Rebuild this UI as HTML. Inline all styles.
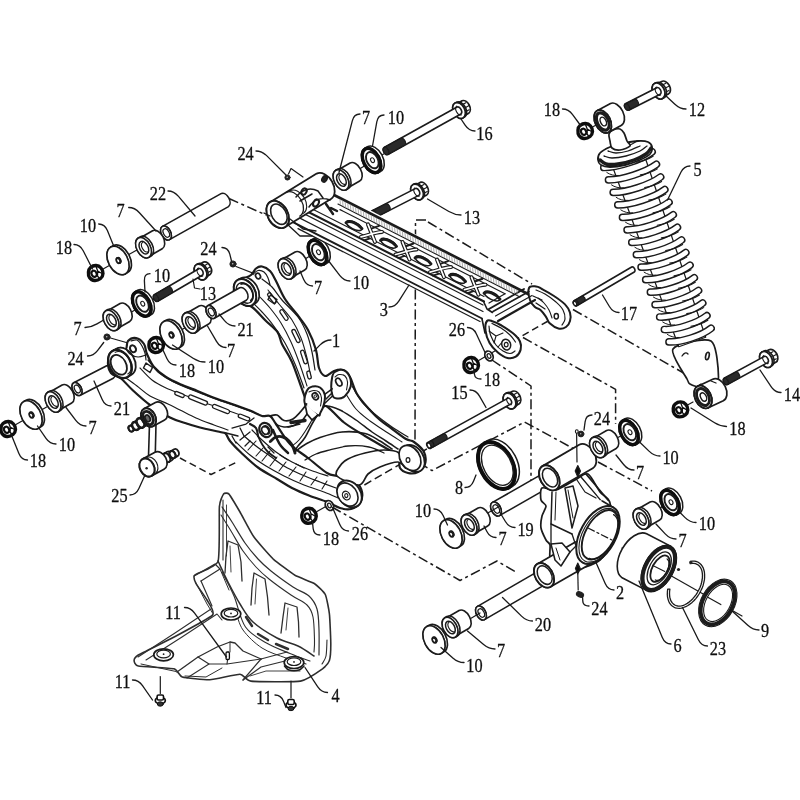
<!DOCTYPE html>
<html><head><meta charset="utf-8"><title>Rear suspension exploded view</title>
<style>
html,body{margin:0;padding:0;background:#fff}
svg{display:block}
text{font-family:"Liberation Serif",serif;fill:#111;stroke:#111;stroke-width:0.3px}
</style></head><body>
<svg width="800" height="800" viewBox="0 0 800 800" stroke-linecap="round" stroke-linejoin="round">
<defs><filter id="soft" x="0" y="0" width="800" height="800" filterUnits="userSpaceOnUse"><feGaussianBlur stdDeviation="0.38"/></filter></defs>
<rect width="800" height="800" fill="#fff"/>
<g filter="url(#soft)">
<path d="M96 273L160 237" fill="none" stroke="#1a1a1a" stroke-width="1.2" />
<path d="M114 322L156 298" fill="none" stroke="#1a1a1a" stroke-width="1.2" />
<path d="M107 337L135 345" fill="none" stroke="#1a1a1a" stroke-width="1.2" />
<path d="M156 345L215 310" fill="none" stroke="#1a1a1a" stroke-width="1.2" />
<path d="M8 429L80 388" fill="none" stroke="#1a1a1a" stroke-width="1.2" />
<path d="M345 178L390 150" fill="none" stroke="#1a1a1a" stroke-width="1.2" />
<path d="M290 268L320 250" fill="none" stroke="#1a1a1a" stroke-width="1.2" />
<path d="M229 198.5L266 215" fill="none" stroke="#1a1a1a" stroke-width="1.5" stroke-dasharray="10 3.5 3 3.5" stroke-linecap="butt"/>
<path d="M426 220L415.5 220L415 442" fill="none" stroke="#1a1a1a" stroke-width="1.5" stroke-dasharray="10 3.5 3 3.5" stroke-linecap="butt"/>
<path d="M428 222L532 284" fill="none" stroke="#1a1a1a" stroke-width="1.5" stroke-dasharray="10 3.5 3 3.5" stroke-linecap="butt"/>
<path d="M419 462.5L432 470.6L524.6 422L575 449.5" fill="none" stroke="#1a1a1a" stroke-width="1.5" stroke-dasharray="10 3.5 3 3.5" stroke-linecap="butt"/>
<path d="M492 360L531 386L531 482" fill="none" stroke="#1a1a1a" stroke-width="1.5" stroke-dasharray="10 3.5 3 3.5" stroke-linecap="butt"/>
<path d="M523 337.5L615.6 389.4L615.6 424" fill="none" stroke="#1a1a1a" stroke-width="1.5" stroke-dasharray="10 3.5 3 3.5" stroke-linecap="butt"/>
<path d="M573 309.5L694 379" fill="none" stroke="#1a1a1a" stroke-width="1.5" stroke-dasharray="10 3.5 3 3.5" stroke-linecap="butt"/>
<path d="M513 341L550 320" fill="none" stroke="#1a1a1a" stroke-width="1.5" stroke-dasharray="7 4" stroke-linecap="butt"/>
<path d="M354 491L404 462" fill="none" stroke="#1a1a1a" stroke-width="1.5" stroke-dasharray="8 4" stroke-linecap="butt"/>
<path d="M420 453L432 446" fill="none" stroke="#1a1a1a" stroke-width="1.5" stroke-dasharray="8 4" stroke-linecap="butt"/>
<path d="M332 507L460 580.5L497 561L516 572" fill="none" stroke="#1a1a1a" stroke-width="1.5" stroke-dasharray="10 3.5 3 3.5" stroke-linecap="butt"/>
<path d="M598 462L652 491" fill="none" stroke="#1a1a1a" stroke-width="1.5" stroke-dasharray="10 3.5 3 3.5" stroke-linecap="butt"/>
<path d="M180 458L211 474.5L236 462.5" fill="none" stroke="#1a1a1a" stroke-width="1.5" stroke-dasharray="7 4" stroke-linecap="butt"/>
<path d="M162.5 226.4L221.5 193.4A4.7 7.5 -28 0 1 228.5 206.6L169.5 239.6Z" fill="#fff" stroke="#1a1a1a" stroke-width="1.6" />
<ellipse cx="166" cy="233" rx="4.7" ry="7.5" transform="rotate(-28 166 233)" fill="#fff" stroke="#1a1a1a" stroke-width="1.6" />
<ellipse cx="166" cy="233" rx="4.7" ry="7.5" transform="rotate(-28 166 233)" fill="#fff" stroke="#1a1a1a" stroke-width="1.6" />
<ellipse cx="166.3" cy="233" rx="2.8" ry="4.5" transform="rotate(-28 166.3 233)" fill="#fff" stroke="#1a1a1a" stroke-width="1.3" />
<path d="M138.7 238.7L152.6 230.7A6.3 10.2 -28 0 1 162.2 248.7L148.3 256.7Z" fill="#fff" stroke="#1a1a1a" stroke-width="1.6" />
<path d="M138.3 238L140.5 236.7A6.8 11 -28 0 1 150.8 256.2L148.7 257.4Z" fill="#fff" stroke="#1a1a1a" stroke-width="1.6" />
<ellipse cx="143.5" cy="247.7" rx="6.8" ry="11" transform="rotate(-28 143.5 247.7)" fill="#fff" stroke="#1a1a1a" stroke-width="1.6" />
<ellipse cx="143.5" cy="247.7" rx="6.8" ry="11" transform="rotate(-28 143.5 247.7)" fill="#fff" stroke="#1a1a1a" stroke-width="1.5" />
<ellipse cx="143.9" cy="247.7" rx="4.2" ry="6.8" transform="rotate(-28 143.9 247.7)" fill="#fff" stroke="#1a1a1a" stroke-width="1.5" />
<path d="M142.5 242.3A3.4 5.5 -28 0 0 147.7 251.9" fill="none" stroke="#1a1a1a" stroke-width="1.1" />
<path d="M110.9 247.1L113.6 245.5A9.6 15.2 -28 0 1 127.9 272.3L125.1 273.9Z" fill="#fff" stroke="#1a1a1a" stroke-width="1.7" />
<ellipse cx="118" cy="260.5" rx="9.6" ry="15.2" transform="rotate(-28 118 260.5)" fill="#fff" stroke="#1a1a1a" stroke-width="1.7" />
<ellipse cx="118" cy="260.5" rx="9.6" ry="15.2" transform="rotate(-28 118 260.5)" fill="#fff" stroke="#1a1a1a" stroke-width="1.5" />
<ellipse cx="118.5" cy="260.5" rx="2.1" ry="2.8" transform="rotate(-28 118.5 260.5)" fill="#fff" stroke="#1a1a1a" stroke-width="1.7" />
<path d="M117.2 258.1A2.1 2.8 -28 0 1 119.8 262.9" fill="none" stroke="#1a1a1a" stroke-width="2.2" />
<path d="M88.5 272C88.7 269.7 88.8 269 90.5 267.5C92.2 266 93.5 265.4 96 265.5C98.5 265.6 99.4 266.1 101 268C102.6 269.9 103.1 271.1 103 273.5C102.9 275.9 102.5 276.9 100.5 278.5C98.5 280.1 97.1 280.7 94.5 280.5C91.9 280.3 90.9 279.5 89.5 277.5C88.1 275.5 88.3 274.3 88.5 272Z" fill="#fff" stroke="#111" stroke-width="3.4" />
<ellipse cx="94.1" cy="273.8" rx="2.5" ry="3.2" transform="rotate(-28 94.1 273.8)" fill="#fff" stroke="#111" stroke-width="2.2" />
<path d="M96 266.5L97.7 271L102 273.5M97.7 271L97.5 276L99.5 278.5" fill="none" stroke="#111" stroke-width="1.3" />
<path d="M198.7 264.9L203.5 262.1A4.7 7.1 -28 0 1 210.1 274.5L205.4 277.3Z" fill="#fff" stroke="#1a1a1a" stroke-width="1.7" />
<path d="M207.3 264.1L203 266.6" fill="none" stroke="#1a1a1a" stroke-width="1.1" />
<path d="M210.5 266.8L206.2 269.3" fill="none" stroke="#1a1a1a" stroke-width="1.1" />
<path d="M210.6 271L206.4 273.5" fill="none" stroke="#1a1a1a" stroke-width="1.1" />
<path d="M196.6 264.6L198.1 263.7A5.7 8.4 -28 0 1 206 278.5L204.4 279.4Z" fill="#fff" stroke="#1a1a1a" stroke-width="1.6" />
<ellipse cx="200.5" cy="272" rx="5.7" ry="8.4" transform="rotate(-28 200.5 272)" fill="#fff" stroke="#1a1a1a" stroke-width="1.6" />
<ellipse cx="200.5" cy="272" rx="5.7" ry="8.4" transform="rotate(-28 200.5 272)" fill="#fff" stroke="#1a1a1a" stroke-width="1.7" />
<path d="M154.3 294.7L198.8 268.7A2.3 3.7 -28 0 1 202.2 275.3L157.7 301.3Z" fill="#fff" stroke="#1a1a1a" stroke-width="1.6" />
<ellipse cx="156" cy="298" rx="2.3" ry="3.7" transform="rotate(-28 156 298)" fill="#fff" stroke="#1a1a1a" stroke-width="1.3" />
<path d="M198.3 267.9A3 4.6 -28 0 0 202.7 276.1" fill="none" stroke="#1a1a1a" stroke-width="1.1" />
<path d="M154.3 294.8L168.1 286.7A2.3 3.6 -28 0 1 171.5 293.1L157.7 301.2Z" fill="#2a2a2a" stroke="#1a1a1a" stroke-width="1.1" />
<ellipse cx="156" cy="298" rx="2.3" ry="3.6" transform="rotate(-28 156 298)" fill="#2a2a2a" stroke="#1a1a1a" stroke-width="1.1" />
<path d="M135.1 291.6L137.7 290.1A8.8 14 -28 0 1 150.9 314.9L148.3 316.4Z" fill="#fff" stroke="#1a1a1a" stroke-width="1.5" />
<ellipse cx="141.7" cy="304" rx="8.8" ry="14" transform="rotate(-28 141.7 304)" fill="#fff" stroke="#1a1a1a" stroke-width="1.5" />
<ellipse cx="141.7" cy="304" rx="7.9" ry="13.1" transform="rotate(-28 141.7 304)" fill="#fff" stroke="#111" stroke-width="3.4" />
<ellipse cx="142.5" cy="303.7" rx="5.5" ry="8.7" transform="rotate(-28 142.5 303.7)" fill="#fff" stroke="#1a1a1a" stroke-width="1.9" />
<ellipse cx="142.7" cy="303.7" rx="1.8" ry="2.5" transform="rotate(-28 142.7 303.7)" fill="#fff" stroke="#1a1a1a" stroke-width="1.1" />
<path d="M106.2 311.5L120.1 303.5A6.3 10.2 -28 0 1 129.7 321.5L115.8 329.5Z" fill="#fff" stroke="#1a1a1a" stroke-width="1.6" />
<path d="M105.8 310.8L108 309.5A6.8 11 -28 0 1 118.3 329L116.2 330.2Z" fill="#fff" stroke="#1a1a1a" stroke-width="1.6" />
<ellipse cx="111" cy="320.5" rx="6.8" ry="11" transform="rotate(-28 111 320.5)" fill="#fff" stroke="#1a1a1a" stroke-width="1.6" />
<ellipse cx="111" cy="320.5" rx="6.8" ry="11" transform="rotate(-28 111 320.5)" fill="#fff" stroke="#1a1a1a" stroke-width="1.5" />
<ellipse cx="111.4" cy="320.5" rx="4.2" ry="6.8" transform="rotate(-28 111.4 320.5)" fill="#fff" stroke="#1a1a1a" stroke-width="1.5" />
<path d="M110 315.1A3.4 5.5 -28 0 0 115.2 324.7" fill="none" stroke="#1a1a1a" stroke-width="1.1" />
<path d="M185.2 314L199.1 306A6.3 10.2 -28 0 1 208.7 324L194.8 332Z" fill="#fff" stroke="#1a1a1a" stroke-width="1.6" />
<path d="M184.8 313.3L187 312A6.8 11 -28 0 1 197.3 331.5L195.2 332.7Z" fill="#fff" stroke="#1a1a1a" stroke-width="1.6" />
<ellipse cx="190" cy="323" rx="6.8" ry="11" transform="rotate(-28 190 323)" fill="#fff" stroke="#1a1a1a" stroke-width="1.6" />
<ellipse cx="190" cy="323" rx="6.8" ry="11" transform="rotate(-28 190 323)" fill="#fff" stroke="#1a1a1a" stroke-width="1.5" />
<ellipse cx="190.4" cy="323" rx="4.2" ry="6.8" transform="rotate(-28 190.4 323)" fill="#fff" stroke="#1a1a1a" stroke-width="1.5" />
<path d="M189 317.6A3.4 5.5 -28 0 0 194.2 327.2" fill="none" stroke="#1a1a1a" stroke-width="1.1" />
<circle cx="233" cy="264" r="3.1" fill="#222" stroke="#222" stroke-width="1"/>
<circle cx="232.7" cy="263.7" r="0.8" fill="#bbb"/>
<path d="M236 266.5L255 274" fill="none" stroke="#1a1a1a" stroke-width="1.2" />
<path d="M193 279L194.5 288L200 289" fill="none" stroke="#1a1a1a" stroke-width="1.2" />
<path d="M163.9 321.6L166.6 320A9.6 15.2 -28 0 1 180.9 346.8L178.1 348.4Z" fill="#fff" stroke="#1a1a1a" stroke-width="1.7" />
<ellipse cx="171" cy="335" rx="9.6" ry="15.2" transform="rotate(-28 171 335)" fill="#fff" stroke="#1a1a1a" stroke-width="1.7" />
<ellipse cx="171" cy="335" rx="9.6" ry="15.2" transform="rotate(-28 171 335)" fill="#fff" stroke="#1a1a1a" stroke-width="1.5" />
<ellipse cx="171.5" cy="335" rx="2.1" ry="2.8" transform="rotate(-28 171.5 335)" fill="#fff" stroke="#1a1a1a" stroke-width="1.7" />
<path d="M170.2 332.6A2.1 2.8 -28 0 1 172.8 337.4" fill="none" stroke="#1a1a1a" stroke-width="2.2" />
<path d="M149 344C149.2 341.7 149.2 341 151 339.5C152.8 338 154.1 337.4 156.5 337.5C158.9 337.6 159.9 338.1 161.5 340C163.1 341.9 163.6 343.1 163.5 345.5C163.4 347.9 163 348.9 161 350.5C159 352.1 157.6 352.7 155 352.5C152.4 352.3 151.4 351.5 150 349.5C148.6 347.5 148.8 346.3 149 344Z" fill="#fff" stroke="#111" stroke-width="3.4" />
<ellipse cx="154.6" cy="345.8" rx="2.5" ry="3.2" transform="rotate(-28 154.6 345.8)" fill="#fff" stroke="#111" stroke-width="2.2" />
<path d="M156.5 338.5L158.2 343L162.5 345.5M158.2 343L158 348L160 350.5" fill="none" stroke="#111" stroke-width="1.3" />
<circle cx="107" cy="337" r="3.1" fill="#222" stroke="#222" stroke-width="1"/>
<circle cx="106.7" cy="336.7" r="0.8" fill="#bbb"/>
<path d="M73.7 382.8L106.7 365.8A4.3 7 -28 0 1 113.3 378.2L80.3 395.2Z" fill="#fff" stroke="#1a1a1a" stroke-width="1.6" />
<ellipse cx="77" cy="389" rx="4.3" ry="7" transform="rotate(-28 77 389)" fill="#fff" stroke="#1a1a1a" stroke-width="1.6" />
<ellipse cx="77" cy="389" rx="4.3" ry="7" transform="rotate(-28 77 389)" fill="#fff" stroke="#1a1a1a" stroke-width="1.6" />
<ellipse cx="77.3" cy="389" rx="2.6" ry="4.2" transform="rotate(-28 77.3 389)" fill="#fff" stroke="#1a1a1a" stroke-width="1.3" />
<path d="M48.2 393L62.1 385A6.3 10.2 -28 0 1 71.7 403L57.8 411Z" fill="#fff" stroke="#1a1a1a" stroke-width="1.6" />
<path d="M47.8 392.3L50 391A6.8 11 -28 0 1 60.3 410.5L58.2 411.7Z" fill="#fff" stroke="#1a1a1a" stroke-width="1.6" />
<ellipse cx="53" cy="402" rx="6.8" ry="11" transform="rotate(-28 53 402)" fill="#fff" stroke="#1a1a1a" stroke-width="1.6" />
<ellipse cx="53" cy="402" rx="6.8" ry="11" transform="rotate(-28 53 402)" fill="#fff" stroke="#1a1a1a" stroke-width="1.5" />
<ellipse cx="53.4" cy="402" rx="4.2" ry="6.8" transform="rotate(-28 53.4 402)" fill="#fff" stroke="#1a1a1a" stroke-width="1.5" />
<path d="M52 396.6A3.4 5.5 -28 0 0 57.2 406.2" fill="none" stroke="#1a1a1a" stroke-width="1.1" />
<path d="M23.9 401.6L26.6 400A9.6 15.2 -28 0 1 40.9 426.8L38.1 428.4Z" fill="#fff" stroke="#1a1a1a" stroke-width="1.7" />
<ellipse cx="31" cy="415" rx="9.6" ry="15.2" transform="rotate(-28 31 415)" fill="#fff" stroke="#1a1a1a" stroke-width="1.7" />
<ellipse cx="31" cy="415" rx="9.6" ry="15.2" transform="rotate(-28 31 415)" fill="#fff" stroke="#1a1a1a" stroke-width="1.5" />
<ellipse cx="31.5" cy="415" rx="2.1" ry="2.8" transform="rotate(-28 31.5 415)" fill="#fff" stroke="#1a1a1a" stroke-width="1.7" />
<path d="M30.2 412.6A2.1 2.8 -28 0 1 32.8 417.4" fill="none" stroke="#1a1a1a" stroke-width="2.2" />
<path d="M1 428C1.2 425.7 1.2 425 3 423.5C4.8 422 6.1 421.4 8.5 421.5C10.9 421.6 11.9 422.1 13.5 424C15.1 425.9 15.6 427.1 15.5 429.5C15.4 431.9 15 432.9 13 434.5C11 436.1 9.6 436.7 7 436.5C4.4 436.3 3.4 435.5 2 433.5C0.6 431.5 0.8 430.3 1 428Z" fill="#fff" stroke="#111" stroke-width="3.4" />
<ellipse cx="6.6" cy="429.8" rx="2.5" ry="3.2" transform="rotate(-28 6.6 429.8)" fill="#fff" stroke="#111" stroke-width="2.2" />
<path d="M8.5 422.5L10.2 427L14.5 429.5M10.2 427L10 432L12 434.5" fill="none" stroke="#111" stroke-width="1.3" />
<path d="M457.3 103.4L462.1 100.7A4.7 7.1 -28 0 1 468.7 113.2L463.9 115.9Z" fill="#fff" stroke="#1a1a1a" stroke-width="1.7" />
<path d="M465.9 102.7L461.5 105.1" fill="none" stroke="#1a1a1a" stroke-width="1.1" />
<path d="M469.1 105.5L464.8 107.9" fill="none" stroke="#1a1a1a" stroke-width="1.1" />
<path d="M469.2 109.7L464.9 112.1" fill="none" stroke="#1a1a1a" stroke-width="1.1" />
<path d="M455.1 103.1L456.6 102.2A5.7 8.4 -28 0 1 464.5 117L462.9 117.9Z" fill="#fff" stroke="#1a1a1a" stroke-width="1.6" />
<ellipse cx="459" cy="110.5" rx="5.7" ry="8.4" transform="rotate(-28 459 110.5)" fill="#fff" stroke="#1a1a1a" stroke-width="1.6" />
<ellipse cx="459" cy="110.5" rx="5.7" ry="8.4" transform="rotate(-28 459 110.5)" fill="#fff" stroke="#1a1a1a" stroke-width="1.7" />
<path d="M384.1 147.5L457.1 107A2.5 4 -28 0 1 460.9 114L387.9 154.5Z" fill="#fff" stroke="#1a1a1a" stroke-width="1.6" />
<ellipse cx="386" cy="151" rx="2.5" ry="4" transform="rotate(-28 386 151)" fill="#fff" stroke="#1a1a1a" stroke-width="1.3" />
<path d="M456.7 106.1A3.2 5 -28 0 0 461.3 114.9" fill="none" stroke="#1a1a1a" stroke-width="1.1" />
<path d="M384.2 147.5L400.8 138.3A2.5 3.9 -28 0 1 404.5 145.2L387.8 154.5Z" fill="#2a2a2a" stroke="#1a1a1a" stroke-width="1.1" />
<ellipse cx="386" cy="151" rx="2.5" ry="3.9" transform="rotate(-28 386 151)" fill="#2a2a2a" stroke="#1a1a1a" stroke-width="1.1" />
<path d="M364.9 148.1L367.5 146.6A8.8 14 -28 0 1 380.7 171.4L378.1 172.9Z" fill="#fff" stroke="#1a1a1a" stroke-width="1.5" />
<ellipse cx="371.5" cy="160.5" rx="8.8" ry="14" transform="rotate(-28 371.5 160.5)" fill="#fff" stroke="#1a1a1a" stroke-width="1.5" />
<ellipse cx="371.5" cy="160.5" rx="7.9" ry="13.1" transform="rotate(-28 371.5 160.5)" fill="#fff" stroke="#111" stroke-width="3.4" />
<ellipse cx="372.3" cy="160.2" rx="5.5" ry="8.7" transform="rotate(-28 372.3 160.2)" fill="#fff" stroke="#1a1a1a" stroke-width="1.9" />
<ellipse cx="372.5" cy="160.2" rx="1.8" ry="2.5" transform="rotate(-28 372.5 160.2)" fill="#fff" stroke="#1a1a1a" stroke-width="1.1" />
<path d="M336.2 171L350.1 163A6.3 10.2 -28 0 1 359.7 181L345.8 189Z" fill="#fff" stroke="#1a1a1a" stroke-width="1.6" />
<path d="M335.8 170.3L338 169A6.8 11 -28 0 1 348.3 188.5L346.2 189.7Z" fill="#fff" stroke="#1a1a1a" stroke-width="1.6" />
<ellipse cx="341" cy="180" rx="6.8" ry="11" transform="rotate(-28 341 180)" fill="#fff" stroke="#1a1a1a" stroke-width="1.6" />
<ellipse cx="341" cy="180" rx="6.8" ry="11" transform="rotate(-28 341 180)" fill="#fff" stroke="#1a1a1a" stroke-width="1.5" />
<ellipse cx="341.4" cy="180" rx="4.2" ry="6.8" transform="rotate(-28 341.4 180)" fill="#fff" stroke="#1a1a1a" stroke-width="1.5" />
<path d="M340 174.6A3.4 5.5 -28 0 0 345.2 184.2" fill="none" stroke="#1a1a1a" stroke-width="1.1" />
<circle cx="287.5" cy="177.5" r="2.6" fill="#222" stroke="#222" stroke-width="1"/>
<circle cx="287.2" cy="177.2" r="0.7" fill="#bbb"/>
<path d="M288.5 174L291 168.5L303 177" fill="none" stroke="#1a1a1a" stroke-width="1.2" />
<path d="M415.3 185L420.2 182.4A4.7 7.1 -28 0 1 426.8 194.9L421.9 197.4Z" fill="#fff" stroke="#1a1a1a" stroke-width="1.7" />
<path d="M424 184.4L419.6 186.7" fill="none" stroke="#1a1a1a" stroke-width="1.1" />
<path d="M427.2 187.2L422.8 189.4" fill="none" stroke="#1a1a1a" stroke-width="1.1" />
<path d="M427.3 191.4L422.9 193.7" fill="none" stroke="#1a1a1a" stroke-width="1.1" />
<path d="M413.1 184.6L414.7 183.8A5.7 8.4 -28 0 1 422.5 198.6L420.9 199.4Z" fill="#fff" stroke="#1a1a1a" stroke-width="1.6" />
<ellipse cx="417" cy="192" rx="5.7" ry="8.4" transform="rotate(-28 417 192)" fill="#fff" stroke="#1a1a1a" stroke-width="1.6" />
<ellipse cx="417" cy="192" rx="5.7" ry="8.4" transform="rotate(-28 417 192)" fill="#fff" stroke="#1a1a1a" stroke-width="1.7" />
<path d="M372.2 210.6L415.2 188.6A2.4 3.8 -28 0 1 418.8 195.4L375.8 217.4Z" fill="#fff" stroke="#1a1a1a" stroke-width="1.6" />
<ellipse cx="374" cy="214" rx="2.4" ry="3.8" transform="rotate(-28 374 214)" fill="#fff" stroke="#1a1a1a" stroke-width="1.3" />
<path d="M414.8 187.8A3.1 4.8 -28 0 0 419.2 196.2" fill="none" stroke="#1a1a1a" stroke-width="1.1" />
<path d="M372.3 210.7L385.6 203.9A2.4 3.7 -28 0 1 389.1 210.5L375.7 217.3Z" fill="#2a2a2a" stroke="#1a1a1a" stroke-width="1.1" />
<ellipse cx="374" cy="214" rx="2.4" ry="3.7" transform="rotate(-28 374 214)" fill="#2a2a2a" stroke="#1a1a1a" stroke-width="1.1" />
<path d="M310.9 240.1L313.5 238.6A8.8 14 -28 0 1 326.7 263.4L324.1 264.9Z" fill="#fff" stroke="#1a1a1a" stroke-width="1.5" />
<ellipse cx="317.5" cy="252.5" rx="8.8" ry="14" transform="rotate(-28 317.5 252.5)" fill="#fff" stroke="#1a1a1a" stroke-width="1.5" />
<ellipse cx="317.5" cy="252.5" rx="7.9" ry="13.1" transform="rotate(-28 317.5 252.5)" fill="#fff" stroke="#111" stroke-width="3.4" />
<ellipse cx="318.3" cy="252.2" rx="5.5" ry="8.7" transform="rotate(-28 318.3 252.2)" fill="#fff" stroke="#1a1a1a" stroke-width="1.9" />
<ellipse cx="318.5" cy="252.2" rx="1.8" ry="2.5" transform="rotate(-28 318.5 252.2)" fill="#fff" stroke="#1a1a1a" stroke-width="1.1" />
<path d="M281.2 260L295.1 252A6.3 10.2 -28 0 1 304.7 270L290.8 278Z" fill="#fff" stroke="#1a1a1a" stroke-width="1.6" />
<path d="M280.8 259.3L283 258A6.8 11 -28 0 1 293.3 277.5L291.2 278.7Z" fill="#fff" stroke="#1a1a1a" stroke-width="1.6" />
<ellipse cx="286" cy="269" rx="6.8" ry="11" transform="rotate(-28 286 269)" fill="#fff" stroke="#1a1a1a" stroke-width="1.6" />
<ellipse cx="286" cy="269" rx="6.8" ry="11" transform="rotate(-28 286 269)" fill="#fff" stroke="#1a1a1a" stroke-width="1.5" />
<ellipse cx="286.4" cy="269" rx="4.2" ry="6.8" transform="rotate(-28 286.4 269)" fill="#fff" stroke="#1a1a1a" stroke-width="1.5" />
<path d="M285 263.6A3.4 5.5 -28 0 0 290.2 273.2" fill="none" stroke="#1a1a1a" stroke-width="1.1" />
<path d="M673 349C669.8 354.1 684.7 374.3 687 379C689.3 383.7 688.3 382.9 690 384C691.7 385.1 697.1 387.1 700 387C702.9 386.9 709.5 384.3 712 383C714.5 381.7 718.6 382.6 718.5 377C718.4 371.4 717.1 344.7 711 341C704.9 337.3 676.2 343.9 673 349Z" fill="#fff" stroke="#1a1a1a" stroke-width="1.7" />
<ellipse cx="707.4" cy="356" rx="1.7" ry="3.8" transform="rotate(12 707.4 356)" fill="#fff" stroke="#1a1a1a" stroke-width="1.7" />
<path d="M682 356 C684 353 686 352 688 354" fill="none" stroke="#1a1a1a" stroke-width="1.3" />
<path d="M764.2 352.3L769.1 349.7A4.8 7.1 -28 0 1 775.8 362.3L770.9 364.9Z" fill="#fff" stroke="#1a1a1a" stroke-width="1.7" />
<path d="M772.9 351.7L768.6 354.1" fill="none" stroke="#1a1a1a" stroke-width="1.1" />
<path d="M776.2 354.5L771.8 356.9" fill="none" stroke="#1a1a1a" stroke-width="1.1" />
<path d="M776.3 358.8L771.9 361.1" fill="none" stroke="#1a1a1a" stroke-width="1.1" />
<path d="M762 352L763.6 351.1A5.8 8.5 -28 0 1 771.6 366.1L770 367Z" fill="#fff" stroke="#1a1a1a" stroke-width="1.6" />
<ellipse cx="766" cy="359.5" rx="5.8" ry="8.5" transform="rotate(-28 766 359.5)" fill="#fff" stroke="#1a1a1a" stroke-width="1.6" />
<ellipse cx="766" cy="359.5" rx="5.8" ry="8.5" transform="rotate(-28 766 359.5)" fill="#fff" stroke="#1a1a1a" stroke-width="1.7" />
<path d="M724.1 378.3L764.4 356.4A2.2 3.5 -28 0 1 767.6 362.6L727.4 384.5Z" fill="#fff" stroke="#1a1a1a" stroke-width="1.6" />
<ellipse cx="725.8" cy="381.4" rx="2.2" ry="3.5" transform="rotate(-28 725.8 381.4)" fill="#fff" stroke="#1a1a1a" stroke-width="1.3" />
<path d="M763.9 355.6A2.8 4.4 -28 0 0 768.1 363.4" fill="none" stroke="#1a1a1a" stroke-width="1.1" />
<path d="M724.1 378.4L735.6 372.2A2.2 3.4 -28 0 1 738.8 378.2L727.4 384.4Z" fill="#2a2a2a" stroke="#1a1a1a" stroke-width="1.1" />
<ellipse cx="725.8" cy="381.4" rx="2.2" ry="3.4" transform="rotate(-28 725.8 381.4)" fill="#2a2a2a" stroke="#1a1a1a" stroke-width="1.1" />
<path d="M697.7 386.2L712.7 379.2A8 12 -26 0 1 723.3 400.8L708.3 407.8Z" fill="#fff" stroke="#1a1a1a" stroke-width="1.7" />
<ellipse cx="703" cy="397" rx="8" ry="12" transform="rotate(-26 703 397)" fill="#fff" stroke="#1a1a1a" stroke-width="1.7" />
<ellipse cx="703" cy="397" rx="8" ry="12" transform="rotate(-26 703 397)" fill="#fff" stroke="#1a1a1a" stroke-width="1.8" />
<ellipse cx="703" cy="397" rx="5.8" ry="9" transform="rotate(-26 703 397)" fill="#fff" stroke="#1a1a1a" stroke-width="2.9" />
<ellipse cx="703.5" cy="397" rx="2.8" ry="4.5" transform="rotate(-26 703.5 397)" fill="#fff" stroke="#1a1a1a" stroke-width="1.5" />
<path d="M696 387 L701 384 M711 381 L716 383" fill="none" stroke="#1a1a1a" stroke-width="1.3" />
<path d="M683 407.5L693 402" fill="none" stroke="#1a1a1a" stroke-width="1.2" />
<path d="M673.3 408.4C673.5 406.1 673.5 405.4 675.3 403.9C677 402.4 678.3 401.8 680.8 401.9C683.2 402 684.2 402.5 685.8 404.4C687.4 406.3 687.9 407.4 687.8 409.9C687.7 412.3 687.3 413.3 685.3 414.9C683.3 416.5 681.9 417.1 679.3 416.9C676.7 416.7 675.7 415.9 674.3 413.9C672.9 411.9 673.1 410.7 673.3 408.4Z" fill="#fff" stroke="#111" stroke-width="3.4" />
<ellipse cx="678.9" cy="410.2" rx="2.5" ry="3.2" transform="rotate(-28 678.9 410.2)" fill="#fff" stroke="#111" stroke-width="2.2" />
<path d="M680.8 402.9L682.5 407.4L686.8 409.9M682.5 407.4L682.3 412.4L684.3 414.9" fill="none" stroke="#111" stroke-width="1.3" />
<path d="M610 159.7L678.8 346.8L705.7 337.3L642 148.3Z" fill="#fff" stroke="#1a1a1a" stroke-width="1.2" />
<path d="M603.8 167.5C617.2 167.6 641.4 159.8 652.1 151.8" fill="none" stroke="#1a1a1a" stroke-width="7.7" stroke-linecap="round"/>
<path d="M603.8 167.5C617.2 167.6 641.4 159.8 652.1 151.8" fill="none" stroke="#fff" stroke-width="4.8" stroke-linecap="round"/>
<path d="M653.1 156.3Q646.1 160.8 636.1 162.3" fill="none" stroke="#1a1a1a" stroke-width="1.1" />
<path d="M606.8 172.5Q611.8 176 618.8 175.5" fill="none" stroke="#1a1a1a" stroke-width="1" />
<path d="M608.5 179.9C621.8 180.1 645.7 172.3 656.4 164.4" fill="none" stroke="#1a1a1a" stroke-width="7.7" stroke-linecap="round"/>
<path d="M608.5 179.9C621.8 180.1 645.7 172.3 656.4 164.4" fill="none" stroke="#fff" stroke-width="4.8" stroke-linecap="round"/>
<path d="M657.4 168.9Q650.4 173.4 640.4 174.9" fill="none" stroke="#1a1a1a" stroke-width="1.1" />
<path d="M611.5 184.9Q616.5 188.4 623.5 187.9" fill="none" stroke="#1a1a1a" stroke-width="1" />
<path d="M613.2 192.4C626.3 192.6 650 184.9 660.6 177" fill="none" stroke="#1a1a1a" stroke-width="7.7" stroke-linecap="round"/>
<path d="M613.2 192.4C626.3 192.6 650 184.9 660.6 177" fill="none" stroke="#fff" stroke-width="4.8" stroke-linecap="round"/>
<path d="M661.6 181.5Q654.6 186 644.6 187.5" fill="none" stroke="#1a1a1a" stroke-width="1.1" />
<path d="M616.2 197.4Q621.2 200.9 628.2 200.4" fill="none" stroke="#1a1a1a" stroke-width="1" />
<path d="M617.8 204.9C630.9 205.1 654.4 197.5 664.8 189.6" fill="none" stroke="#1a1a1a" stroke-width="7.7" stroke-linecap="round"/>
<path d="M617.8 204.9C630.9 205.1 654.4 197.5 664.8 189.6" fill="none" stroke="#fff" stroke-width="4.8" stroke-linecap="round"/>
<path d="M665.8 194.1Q658.8 198.6 648.8 200.1" fill="none" stroke="#1a1a1a" stroke-width="1.1" />
<path d="M620.8 209.9Q625.8 213.4 632.8 212.9" fill="none" stroke="#1a1a1a" stroke-width="1" />
<path d="M622.5 217.3C635.4 217.6 658.7 210 669 202.2" fill="none" stroke="#1a1a1a" stroke-width="7.7" stroke-linecap="round"/>
<path d="M622.5 217.3C635.4 217.6 658.7 210 669 202.2" fill="none" stroke="#fff" stroke-width="4.8" stroke-linecap="round"/>
<path d="M670 206.7Q663 211.2 653 212.7" fill="none" stroke="#1a1a1a" stroke-width="1.1" />
<path d="M625.5 222.3Q630.5 225.8 637.5 225.3" fill="none" stroke="#1a1a1a" stroke-width="1" />
<path d="M627.1 229.8C640 230.1 663 222.6 673.2 214.8" fill="none" stroke="#1a1a1a" stroke-width="7.7" stroke-linecap="round"/>
<path d="M627.1 229.8C640 230.1 663 222.6 673.2 214.8" fill="none" stroke="#fff" stroke-width="4.8" stroke-linecap="round"/>
<path d="M674.2 219.3Q667.2 223.8 657.2 225.3" fill="none" stroke="#1a1a1a" stroke-width="1.1" />
<path d="M630.1 234.8Q635.1 238.3 642.1 237.8" fill="none" stroke="#1a1a1a" stroke-width="1" />
<path d="M631.8 242.3C644.5 242.6 667.3 235.2 677.4 227.4" fill="none" stroke="#1a1a1a" stroke-width="7.7" stroke-linecap="round"/>
<path d="M631.8 242.3C644.5 242.6 667.3 235.2 677.4 227.4" fill="none" stroke="#fff" stroke-width="4.8" stroke-linecap="round"/>
<path d="M678.4 231.9Q671.4 236.4 661.4 237.9" fill="none" stroke="#1a1a1a" stroke-width="1.1" />
<path d="M634.8 247.3Q639.8 250.8 646.8 250.3" fill="none" stroke="#1a1a1a" stroke-width="1" />
<path d="M636.4 254.7C649 255.1 671.6 247.7 681.6 240" fill="none" stroke="#1a1a1a" stroke-width="7.7" stroke-linecap="round"/>
<path d="M636.4 254.7C649 255.1 671.6 247.7 681.6 240" fill="none" stroke="#fff" stroke-width="4.8" stroke-linecap="round"/>
<path d="M682.6 244.5Q675.6 249 665.6 250.5" fill="none" stroke="#1a1a1a" stroke-width="1.1" />
<path d="M639.4 259.7Q644.4 263.2 651.4 262.7" fill="none" stroke="#1a1a1a" stroke-width="1" />
<path d="M641.1 267.2C653.6 267.6 676 260.3 685.8 252.6" fill="none" stroke="#1a1a1a" stroke-width="7.7" stroke-linecap="round"/>
<path d="M641.1 267.2C653.6 267.6 676 260.3 685.8 252.6" fill="none" stroke="#fff" stroke-width="4.8" stroke-linecap="round"/>
<path d="M686.8 257.1Q679.8 261.6 669.8 263.1" fill="none" stroke="#1a1a1a" stroke-width="1.1" />
<path d="M644.1 272.2Q649.1 275.7 656.1 275.2" fill="none" stroke="#1a1a1a" stroke-width="1" />
<path d="M645.7 279.6C658.1 280.1 680.3 272.9 690 265.2" fill="none" stroke="#1a1a1a" stroke-width="7.7" stroke-linecap="round"/>
<path d="M645.7 279.6C658.1 280.1 680.3 272.9 690 265.2" fill="none" stroke="#fff" stroke-width="4.8" stroke-linecap="round"/>
<path d="M691 269.7Q684 274.2 674 275.7" fill="none" stroke="#1a1a1a" stroke-width="1.1" />
<path d="M648.7 284.6Q653.7 288.1 660.7 287.6" fill="none" stroke="#1a1a1a" stroke-width="1" />
<path d="M650.4 292.1C662.7 292.6 684.6 285.5 694.3 277.8" fill="none" stroke="#1a1a1a" stroke-width="7.7" stroke-linecap="round"/>
<path d="M650.4 292.1C662.7 292.6 684.6 285.5 694.3 277.8" fill="none" stroke="#fff" stroke-width="4.8" stroke-linecap="round"/>
<path d="M695.3 282.3Q688.3 286.8 678.3 288.3" fill="none" stroke="#1a1a1a" stroke-width="1.1" />
<path d="M653.4 297.1Q658.4 300.6 665.4 300.1" fill="none" stroke="#1a1a1a" stroke-width="1" />
<path d="M655.1 304.6C667.2 305.1 688.9 298 698.5 290.5" fill="none" stroke="#1a1a1a" stroke-width="7.7" stroke-linecap="round"/>
<path d="M655.1 304.6C667.2 305.1 688.9 298 698.5 290.5" fill="none" stroke="#fff" stroke-width="4.8" stroke-linecap="round"/>
<path d="M699.5 295Q692.5 299.5 682.5 301" fill="none" stroke="#1a1a1a" stroke-width="1.1" />
<path d="M658.1 309.6Q663.1 313.1 670.1 312.6" fill="none" stroke="#1a1a1a" stroke-width="1" />
<path d="M659.7 317C671.8 317.6 693.3 310.6 702.7 303.1" fill="none" stroke="#1a1a1a" stroke-width="7.7" stroke-linecap="round"/>
<path d="M659.7 317C671.8 317.6 693.3 310.6 702.7 303.1" fill="none" stroke="#fff" stroke-width="4.8" stroke-linecap="round"/>
<path d="M703.7 307.6Q696.7 312.1 686.7 313.6" fill="none" stroke="#1a1a1a" stroke-width="1.1" />
<path d="M662.7 322Q667.7 325.5 674.7 325" fill="none" stroke="#1a1a1a" stroke-width="1" />
<path d="M664.4 329.5C676.3 330.1 697.6 323.2 706.9 315.7" fill="none" stroke="#1a1a1a" stroke-width="7.7" stroke-linecap="round"/>
<path d="M664.4 329.5C676.3 330.1 697.6 323.2 706.9 315.7" fill="none" stroke="#fff" stroke-width="4.8" stroke-linecap="round"/>
<path d="M707.9 320.2Q700.9 324.7 690.9 326.2" fill="none" stroke="#1a1a1a" stroke-width="1.1" />
<path d="M667.4 334.5Q672.4 338 679.4 337.5" fill="none" stroke="#1a1a1a" stroke-width="1" />
<path d="M669 341.9C680.9 342.6 701.9 335.7 711.1 328.3" fill="none" stroke="#1a1a1a" stroke-width="7.7" stroke-linecap="round"/>
<path d="M669 341.9C680.9 342.6 701.9 335.7 711.1 328.3" fill="none" stroke="#fff" stroke-width="4.8" stroke-linecap="round"/>
<path d="M598 160C597.8 158 598 155.2 600 153C602 150.8 606 148.7 610 147C614 145.3 619.3 144 624 143C628.7 142 634 141.2 638 141C642 140.8 645.7 141 648 142C650.3 143 651.7 145 652 147C652.3 149 652 151.8 650 154C648 156.2 644.2 158.2 640 160C635.8 161.8 630 163.8 625 165C620 166.2 614 167 610 167C606 167 603 166.2 601 165C599 163.8 598.2 162 598 160Z" fill="#fff" stroke="#1a1a1a" stroke-width="1.8" />
<path d="M600 160C601 160.7 603 163.3 606 164C609 164.7 613.3 164.7 618 164C622.7 163.3 629.3 161.7 634 160C638.7 158.3 643.2 156 646 154C648.8 152 650.2 149 651 148" fill="none" stroke="#1a1a1a" stroke-width="3.4" />
<path d="M604 156C605.3 156.3 608.3 158 612 158C615.7 158 621.3 157.2 626 156C630.7 154.8 636.5 152.7 640 151C643.5 149.3 645.8 146.8 647 146" fill="none" stroke="#1a1a1a" stroke-width="1.3" />
<path d="M608 151C609.3 151.3 612.7 153 616 153C619.3 153 624 152.2 628 151C632 149.8 638 146.8 640 146" fill="none" stroke="#1a1a1a" stroke-width="1.3" />
<path d="M611 146C612.3 146.3 615.8 148.2 619 148C622.2 147.8 627 146.2 630 145C633 143.8 635.8 141.7 637 141" fill="none" stroke="#1a1a1a" stroke-width="1.3" />
<path d="M610 141C609.5 138.7 608.5 135.8 609 134C609.5 132.2 611.2 130.8 613 130C614.8 129.2 618.2 128.5 620 129C621.8 129.5 622.8 131 624 133C625.2 135 626 138.8 627 141C628 143.2 631.2 144.5 630 146C628.8 147.5 623 149.7 620 150C617 150.3 613.7 149.5 612 148C610.3 146.5 610.5 143.3 610 141Z" fill="#fff" stroke="#1a1a1a" stroke-width="1.7" />
<path d="M656.8 83.9L661.7 81.4A4.8 7.1 -28 0 1 668.4 94L663.5 96.5Z" fill="#fff" stroke="#1a1a1a" stroke-width="1.7" />
<path d="M665.5 83.4L661.1 85.6" fill="none" stroke="#1a1a1a" stroke-width="1.1" />
<path d="M668.8 86.2L664.4 88.4" fill="none" stroke="#1a1a1a" stroke-width="1.1" />
<path d="M668.9 90.4L664.5 92.7" fill="none" stroke="#1a1a1a" stroke-width="1.1" />
<path d="M654.5 83.5L656.1 82.7A5.8 8.5 -28 0 1 664.1 97.7L662.5 98.5Z" fill="#fff" stroke="#1a1a1a" stroke-width="1.6" />
<ellipse cx="658.5" cy="91" rx="5.8" ry="8.5" transform="rotate(-28 658.5 91)" fill="#fff" stroke="#1a1a1a" stroke-width="1.6" />
<ellipse cx="658.5" cy="91" rx="5.8" ry="8.5" transform="rotate(-28 658.5 91)" fill="#fff" stroke="#1a1a1a" stroke-width="1.7" />
<path d="M625.3 103.8L656.8 87.8A2.2 3.6 -28 0 1 660.2 94.2L628.7 110.2Z" fill="#fff" stroke="#1a1a1a" stroke-width="1.6" />
<ellipse cx="627" cy="107" rx="2.2" ry="3.6" transform="rotate(-28 627 107)" fill="#fff" stroke="#1a1a1a" stroke-width="1.3" />
<path d="M656.4 87A2.9 4.5 -28 0 0 660.6 95" fill="none" stroke="#1a1a1a" stroke-width="1.1" />
<path d="M625.3 103.9L634.3 99.4A2.2 3.5 -28 0 1 637.6 105.6L628.7 110.1Z" fill="#2a2a2a" stroke="#1a1a1a" stroke-width="1.1" />
<ellipse cx="627" cy="107" rx="2.2" ry="3.5" transform="rotate(-28 627 107)" fill="#2a2a2a" stroke="#1a1a1a" stroke-width="1.1" />
<path d="M597.5 110.5L610.5 103.5A7.6 12.2 -26 0 1 621.1 125.5L608.1 132.5Z" fill="#fff" stroke="#1a1a1a" stroke-width="1.7" />
<ellipse cx="602.8" cy="121.5" rx="7.6" ry="12.2" transform="rotate(-26 602.8 121.5)" fill="#fff" stroke="#1a1a1a" stroke-width="1.7" />
<ellipse cx="602.8" cy="121.5" rx="7.6" ry="12.2" transform="rotate(-26 602.8 121.5)" fill="#fff" stroke="#1a1a1a" stroke-width="1.8" />
<ellipse cx="602.8" cy="121.5" rx="5.6" ry="9.2" transform="rotate(-26 602.8 121.5)" fill="#fff" stroke="#1a1a1a" stroke-width="3.1" />
<ellipse cx="603.3" cy="121.5" rx="2.8" ry="4.6" transform="rotate(-26 603.3 121.5)" fill="#fff" stroke="#1a1a1a" stroke-width="1.5" />
<path d="M589 129L597 124.5" fill="none" stroke="#1a1a1a" stroke-width="1.2" />
<path d="M578 130C578.2 127.7 578.2 127 580 125.5C581.8 124 583 123.4 585.5 123.5C588 123.6 588.9 124.1 590.5 126C592.1 127.9 592.6 129.1 592.5 131.5C592.4 133.9 592 134.9 590 136.5C588 138.1 586.6 138.7 584 138.5C581.4 138.3 580.4 137.5 579 135.5C577.6 133.5 577.8 132.3 578 130Z" fill="#fff" stroke="#111" stroke-width="3.4" />
<ellipse cx="583.6" cy="131.8" rx="2.5" ry="3.2" transform="rotate(-28 583.6 131.8)" fill="#fff" stroke="#111" stroke-width="2.2" />
<path d="M585.5 124.5L587.2 129L591.5 131.5M587.2 129L587 134L589 136.5" fill="none" stroke="#111" stroke-width="1.3" />
<path d="M573.7 301L631.7 267A1.7 2.8 -28 0 1 634.3 272L576.3 306Z" fill="#fff" stroke="#1a1a1a" stroke-width="1.6" />
<ellipse cx="575" cy="303.5" rx="1.7" ry="2.8" transform="rotate(-28 575 303.5)" fill="#fff" stroke="#1a1a1a" stroke-width="1.3" />
<path d="M575 300.3L581.9 296.3A1.7 2.7 -28 0 1 584.5 301.1L577.6 305.2Z" fill="#2a2a2a" stroke="#1a1a1a" stroke-width="1.1" />
<ellipse cx="576.3" cy="302.7" rx="1.7" ry="2.7" transform="rotate(-28 576.3 302.7)" fill="#2a2a2a" stroke="#1a1a1a" stroke-width="1.1" />
<ellipse cx="575" cy="303.5" rx="1.4" ry="2.2" transform="rotate(-28 575 303.5)" fill="#fff" stroke="#1a1a1a" stroke-width="1.2" />
<path d="M471 365L500 348" fill="none" stroke="#1a1a1a" stroke-width="1.2" />
<path d="M464 364C464.2 361.7 464.2 361 466 359.5C467.8 358 469.1 357.4 471.5 357.5C473.9 357.6 474.9 358.1 476.5 360C478.1 361.9 478.6 363.1 478.5 365.5C478.4 367.9 478 368.9 476 370.5C474 372.1 472.6 372.7 470 372.5C467.4 372.3 466.4 371.5 465 369.5C463.6 367.5 463.8 366.3 464 364Z" fill="#fff" stroke="#111" stroke-width="3.4" />
<ellipse cx="469.6" cy="365.8" rx="2.5" ry="3.2" transform="rotate(-28 469.6 365.8)" fill="#fff" stroke="#111" stroke-width="2.2" />
<path d="M471.5 358.5L473.2 363L477.5 365.5M473.2 363L473 368L475 370.5" fill="none" stroke="#111" stroke-width="1.3" />
<ellipse cx="489" cy="356" rx="3.8" ry="5.2" transform="rotate(-28 489 356)" fill="#fff" stroke="#1a1a1a" stroke-width="1.8" />
<ellipse cx="489" cy="356" rx="1.7" ry="2.4" transform="rotate(-28 489 356)" fill="#fff" stroke="#1a1a1a" stroke-width="1.3" />
<path d="M507.8 393.9L512.6 391.2A4.7 7.1 -28 0 1 519.2 403.7L514.4 406.4Z" fill="#fff" stroke="#1a1a1a" stroke-width="1.7" />
<path d="M516.4 393.2L512.1 395.6" fill="none" stroke="#1a1a1a" stroke-width="1.1" />
<path d="M519.6 396L515.3 398.4" fill="none" stroke="#1a1a1a" stroke-width="1.1" />
<path d="M519.7 400.2L515.4 402.6" fill="none" stroke="#1a1a1a" stroke-width="1.1" />
<path d="M505.6 393.6L507.1 392.7A5.7 8.4 -28 0 1 515 407.5L513.4 408.4Z" fill="#fff" stroke="#1a1a1a" stroke-width="1.6" />
<ellipse cx="509.5" cy="401" rx="5.7" ry="8.4" transform="rotate(-28 509.5 401)" fill="#fff" stroke="#1a1a1a" stroke-width="1.6" />
<ellipse cx="509.5" cy="401" rx="5.7" ry="8.4" transform="rotate(-28 509.5 401)" fill="#fff" stroke="#1a1a1a" stroke-width="1.7" />
<path d="M427.5 442.6L508 398.1A2 3.3 -28 0 1 511 403.9L430.5 448.4Z" fill="#fff" stroke="#1a1a1a" stroke-width="1.6" />
<ellipse cx="429" cy="445.5" rx="2" ry="3.3" transform="rotate(-28 429 445.5)" fill="#fff" stroke="#1a1a1a" stroke-width="1.3" />
<path d="M507.6 397.4A2.7 4.1 -28 0 0 511.4 404.6" fill="none" stroke="#1a1a1a" stroke-width="1.1" />
<path d="M430.1 441.2L443.2 433.9A2 3.2 -28 0 1 446.3 439.6L433.1 446.9Z" fill="#2a2a2a" stroke="#1a1a1a" stroke-width="1.1" />
<ellipse cx="431.6" cy="444" rx="2" ry="3.2" transform="rotate(-28 431.6 444)" fill="#2a2a2a" stroke="#1a1a1a" stroke-width="1.1" />
<ellipse cx="429" cy="445.5" rx="1.6" ry="2.6" transform="rotate(-28 429 445.5)" fill="#fff" stroke="#1a1a1a" stroke-width="1.2" />
<path d="M484.3 442.5L487.8 440.5A17 26 -28 0 1 512.2 486.5L508.7 488.5Z" fill="#fff" stroke="#1a1a1a" stroke-width="1.5" />
<ellipse cx="496.5" cy="465.5" rx="17" ry="26" transform="rotate(-28 496.5 465.5)" fill="#fff" stroke="#1a1a1a" stroke-width="1.5" />
<ellipse cx="496.5" cy="465.5" rx="16.1" ry="25.1" transform="rotate(-28 496.5 465.5)" fill="#fff" stroke="#111" stroke-width="4" />
<ellipse cx="497.3" cy="465.2" rx="12.6" ry="19.2" transform="rotate(-28 497.3 465.2)" fill="#fff" stroke="#1a1a1a" stroke-width="1.9" />
<ellipse cx="497.3" cy="465.2" rx="13.8" ry="21.5" transform="rotate(-28 497.3 465.2)" fill="#fff" stroke="#1a1a1a" stroke-width="1.3" />
<path d="M492.5 502.4L541.5 474.4A4.7 7.5 -28 0 1 548.5 487.6L499.5 515.6Z" fill="#fff" stroke="#1a1a1a" stroke-width="1.6" />
<ellipse cx="496" cy="509" rx="4.7" ry="7.5" transform="rotate(-28 496 509)" fill="#fff" stroke="#1a1a1a" stroke-width="1.6" />
<ellipse cx="496" cy="509" rx="4.7" ry="7.5" transform="rotate(-28 496 509)" fill="#fff" stroke="#1a1a1a" stroke-width="1.6" />
<ellipse cx="496.3" cy="509" rx="2.8" ry="4.5" transform="rotate(-28 496.3 509)" fill="#fff" stroke="#1a1a1a" stroke-width="1.3" />
<path d="M477.5 606.4L534.5 573.4A4.7 7.5 -28 0 1 541.5 586.6L484.5 619.6Z" fill="#fff" stroke="#1a1a1a" stroke-width="1.6" />
<ellipse cx="481" cy="613" rx="4.7" ry="7.5" transform="rotate(-28 481 613)" fill="#fff" stroke="#1a1a1a" stroke-width="1.6" />
<ellipse cx="481" cy="613" rx="4.7" ry="7.5" transform="rotate(-28 481 613)" fill="#fff" stroke="#1a1a1a" stroke-width="1.6" />
<ellipse cx="481.3" cy="613" rx="2.8" ry="4.5" transform="rotate(-28 481.3 613)" fill="#fff" stroke="#1a1a1a" stroke-width="1.3" />
<path d="M542 488C540 489.3 540.5 497.6 541 500C541.5 502.4 545.9 503.9 546 506C546.1 508.1 542.7 513.1 542 516C541.3 518.9 540.5 524.8 541 528C541.5 531.2 544.8 537.7 546 540C547.2 542.3 549.5 542.6 550 545C550.5 547.4 549.2 555.2 550 558C550.8 560.8 552 564.7 556 566C560 567.3 574.1 568.8 580 568C585.9 567.2 595.7 563.7 600 560C604.3 556.3 610.7 547.6 612 540C613.3 532.4 611.6 509.4 610 503C608.4 496.6 602.9 495.9 600 492C597.1 488.1 591.3 475.6 588 474C584.7 472.4 579.3 477.9 575 480C570.7 482.1 560.4 488.9 556 490C551.6 491.1 544 486.7 542 488Z" fill="#fff" stroke="#1a1a1a" stroke-width="1.7" />
<path d="M537.4 563.9L575.4 542.1A8.8 13.2 -30 0 1 588.6 564.9L550.6 586.7Z" fill="#fff" stroke="#1a1a1a" stroke-width="1.7" />
<ellipse cx="544" cy="575.3" rx="8.8" ry="13.2" transform="rotate(-30 544 575.3)" fill="#fff" stroke="#1a1a1a" stroke-width="1.7" />
<path d="M542.5 466.1L579.2 444.8A9 13.5 -30 0 1 592.8 468.2L556 489.5Z" fill="#fff" stroke="#1a1a1a" stroke-width="1.8" />
<ellipse cx="549.3" cy="477.8" rx="9" ry="13.5" transform="rotate(-30 549.3 477.8)" fill="#fff" stroke="#1a1a1a" stroke-width="1.8" />
<path d="M586 474L608 500" fill="none" stroke="#1a1a1a" stroke-width="1.8" />
<path d="M581 477L603 503" fill="none" stroke="#1a1a1a" stroke-width="1.3" />
<path d="M577 480L585 492L596 498" fill="none" stroke="#1a1a1a" stroke-width="1.2" />
<path d="M613.3 507.4L600.3 499.9L585 527.5L598 535Z" fill="#fff" stroke="none" stroke-width="1.6" />
<path d="M613.3 507.4L602.3 501.1" fill="none" stroke="#1a1a1a" stroke-width="1.7" />
<ellipse cx="598" cy="535" rx="17.7" ry="31.5" transform="rotate(29 598 535)" fill="#fff" stroke="#1a1a1a" stroke-width="2" />
<ellipse cx="599" cy="535.3" rx="16.2" ry="29.3" transform="rotate(29 599 535.3)" fill="#fff" stroke="#1a1a1a" stroke-width="1.1" />
<ellipse cx="600" cy="534.8" rx="14.6" ry="27" transform="rotate(29 600 534.8)" fill="#fff" stroke="#1a1a1a" stroke-width="1.9" />
<path d="M613.6 514.6A13 25 29 0 1 589.4 558.4" fill="none" stroke="#1a1a1a" stroke-width="1.3" />
<path d="M588 528 L612 540" fill="none" stroke="#1a1a1a" stroke-width="1.2" stroke-dasharray="7 3 2 3"/>
<path d="M565 488L572 528L578 506L573 486Z" fill="#fff" stroke="#1a1a1a" stroke-width="1.5" />
<path d="M568 490L573 518" fill="none" stroke="#1a1a1a" stroke-width="1" />
<path d="M552 492L551 524L572 534" fill="none" stroke="#1a1a1a" stroke-width="1.5" />
<path d="M556 492L555 520" fill="none" stroke="#1a1a1a" stroke-width="1" />
<path d="M551 544L555 560L561 566L570 552L562 543Z" fill="#fff" stroke="#1a1a1a" stroke-width="1.5" />
<path d="M551 524L551 544" fill="none" stroke="#1a1a1a" stroke-width="1.3" />
<path d="M572 534L576 546L570 552" fill="none" stroke="#1a1a1a" stroke-width="1.3" />
<path d="M556 548L560 560" fill="none" stroke="#1a1a1a" stroke-width="1" />
<ellipse cx="549.3" cy="477.8" rx="9" ry="13.5" transform="rotate(-30 549.3 477.8)" fill="#fff" stroke="#1a1a1a" stroke-width="1.9" />
<ellipse cx="550" cy="477.6" rx="6.6" ry="10.2" transform="rotate(-30 550 477.6)" fill="#fff" stroke="#1a1a1a" stroke-width="1.5" />
<ellipse cx="544" cy="575.3" rx="8.8" ry="13.2" transform="rotate(-30 544 575.3)" fill="#fff" stroke="#1a1a1a" stroke-width="1.9" />
<ellipse cx="544.7" cy="575.1" rx="6.5" ry="10" transform="rotate(-30 544.7 575.1)" fill="#fff" stroke="#1a1a1a" stroke-width="1.5" />
<path d="M577.8 465.5 L580.5 471 L577.8 477 L575.2 471 Z" fill="#111" stroke="#1a1a1a" stroke-width="1.1" />
<path d="M577.8 563 L580.3 568.5 L577.8 574 L575.4 568.5 Z" fill="#111" stroke="#1a1a1a" stroke-width="1.1" />
<path d="M576.6 432L577 462" fill="none" stroke="#1a1a1a" stroke-width="1.2" />
<path d="M577.8 574L578.2 590" fill="none" stroke="#1a1a1a" stroke-width="1.2" />
<ellipse cx="576.8" cy="431.5" rx="1.4" ry="1.8" transform="rotate(0 576.8 431.5)" fill="#fff" stroke="#1a1a1a" stroke-width="1.1" />
<ellipse cx="580" cy="594.5" rx="3.8" ry="2.5" transform="rotate(25 580 594.5)" fill="#222" stroke="#222"/>
<path d="M451 534L500 506" fill="none" stroke="#1a1a1a" stroke-width="1.2" />
<path d="M464.2 516L478.1 508A6.3 10.2 -28 0 1 487.7 526L473.8 534Z" fill="#fff" stroke="#1a1a1a" stroke-width="1.6" />
<path d="M463.8 515.3L466 514A6.8 11 -28 0 1 476.3 533.5L474.2 534.7Z" fill="#fff" stroke="#1a1a1a" stroke-width="1.6" />
<ellipse cx="469" cy="525" rx="6.8" ry="11" transform="rotate(-28 469 525)" fill="#fff" stroke="#1a1a1a" stroke-width="1.6" />
<ellipse cx="469" cy="525" rx="6.8" ry="11" transform="rotate(-28 469 525)" fill="#fff" stroke="#1a1a1a" stroke-width="1.5" />
<ellipse cx="469.4" cy="525" rx="4.2" ry="6.8" transform="rotate(-28 469.4 525)" fill="#fff" stroke="#1a1a1a" stroke-width="1.5" />
<path d="M468 519.6A3.4 5.5 -28 0 0 473.2 529.2" fill="none" stroke="#1a1a1a" stroke-width="1.1" />
<path d="M443.9 520.6L446.6 519A9.6 15.2 -28 0 1 460.9 545.8L458.1 547.4Z" fill="#fff" stroke="#1a1a1a" stroke-width="1.7" />
<ellipse cx="451" cy="534" rx="9.6" ry="15.2" transform="rotate(-28 451 534)" fill="#fff" stroke="#1a1a1a" stroke-width="1.7" />
<ellipse cx="451" cy="534" rx="9.6" ry="15.2" transform="rotate(-28 451 534)" fill="#fff" stroke="#1a1a1a" stroke-width="1.5" />
<ellipse cx="451.5" cy="534" rx="2.1" ry="2.8" transform="rotate(-28 451.5 534)" fill="#fff" stroke="#1a1a1a" stroke-width="1.7" />
<path d="M450.2 531.6A2.1 2.8 -28 0 1 452.8 536.4" fill="none" stroke="#1a1a1a" stroke-width="2.2" />
<path d="M434 640L480 613" fill="none" stroke="#1a1a1a" stroke-width="1.2" />
<path d="M445.2 618.5L459.1 610.5A6.3 10.2 -28 0 1 468.7 628.5L454.8 636.5Z" fill="#fff" stroke="#1a1a1a" stroke-width="1.6" />
<path d="M444.8 617.8L447 616.5A6.8 11 -28 0 1 457.3 636L455.2 637.2Z" fill="#fff" stroke="#1a1a1a" stroke-width="1.6" />
<ellipse cx="450" cy="627.5" rx="6.8" ry="11" transform="rotate(-28 450 627.5)" fill="#fff" stroke="#1a1a1a" stroke-width="1.6" />
<ellipse cx="450" cy="627.5" rx="6.8" ry="11" transform="rotate(-28 450 627.5)" fill="#fff" stroke="#1a1a1a" stroke-width="1.5" />
<ellipse cx="450.4" cy="627.5" rx="4.2" ry="6.8" transform="rotate(-28 450.4 627.5)" fill="#fff" stroke="#1a1a1a" stroke-width="1.5" />
<path d="M449 622.1A3.4 5.5 -28 0 0 454.2 631.7" fill="none" stroke="#1a1a1a" stroke-width="1.1" />
<path d="M426.9 626.6L429.6 625A9.6 15.2 -28 0 1 443.9 651.8L441.1 653.4Z" fill="#fff" stroke="#1a1a1a" stroke-width="1.7" />
<ellipse cx="434" cy="640" rx="9.6" ry="15.2" transform="rotate(-28 434 640)" fill="#fff" stroke="#1a1a1a" stroke-width="1.7" />
<ellipse cx="434" cy="640" rx="9.6" ry="15.2" transform="rotate(-28 434 640)" fill="#fff" stroke="#1a1a1a" stroke-width="1.5" />
<ellipse cx="434.5" cy="640" rx="2.1" ry="2.8" transform="rotate(-28 434.5 640)" fill="#fff" stroke="#1a1a1a" stroke-width="1.7" />
<path d="M433.2 637.6A2.1 2.8 -28 0 1 435.8 642.4" fill="none" stroke="#1a1a1a" stroke-width="2.2" />
<path d="M600 447L632 430" fill="none" stroke="#1a1a1a" stroke-width="1.2" />
<path d="M622.4 420.1L625 418.6A8.8 14 -28 0 1 638.2 443.4L635.6 444.9Z" fill="#fff" stroke="#1a1a1a" stroke-width="1.5" />
<ellipse cx="629" cy="432.5" rx="8.8" ry="14" transform="rotate(-28 629 432.5)" fill="#fff" stroke="#1a1a1a" stroke-width="1.5" />
<ellipse cx="629" cy="432.5" rx="7.9" ry="13.1" transform="rotate(-28 629 432.5)" fill="#fff" stroke="#111" stroke-width="3.4" />
<ellipse cx="629.8" cy="432.2" rx="5.5" ry="8.7" transform="rotate(-28 629.8 432.2)" fill="#fff" stroke="#1a1a1a" stroke-width="1.9" />
<ellipse cx="630" cy="432.2" rx="1.8" ry="2.5" transform="rotate(-28 630 432.2)" fill="#fff" stroke="#1a1a1a" stroke-width="1.1" />
<path d="M592.7 438.5L606.6 430.5A6.3 10.2 -28 0 1 616.2 448.5L602.3 456.5Z" fill="#fff" stroke="#1a1a1a" stroke-width="1.6" />
<path d="M592.3 437.8L594.5 436.5A6.8 11 -28 0 1 604.8 456L602.7 457.2Z" fill="#fff" stroke="#1a1a1a" stroke-width="1.6" />
<ellipse cx="597.5" cy="447.5" rx="6.8" ry="11" transform="rotate(-28 597.5 447.5)" fill="#fff" stroke="#1a1a1a" stroke-width="1.6" />
<ellipse cx="597.5" cy="447.5" rx="6.8" ry="11" transform="rotate(-28 597.5 447.5)" fill="#fff" stroke="#1a1a1a" stroke-width="1.5" />
<ellipse cx="597.9" cy="447.5" rx="4.2" ry="6.8" transform="rotate(-28 597.9 447.5)" fill="#fff" stroke="#1a1a1a" stroke-width="1.5" />
<path d="M596.5 442.1A3.4 5.5 -28 0 0 601.7 451.7" fill="none" stroke="#1a1a1a" stroke-width="1.1" />
<circle cx="581" cy="434" r="2.9" fill="#222" stroke="#222" stroke-width="1"/>
<circle cx="580.7" cy="433.7" r="0.7" fill="#bbb"/>
<path d="M643 518L672 501" fill="none" stroke="#1a1a1a" stroke-width="1.2" />
<path d="M663.4 490.1L666 488.6A8.8 14 -28 0 1 679.2 513.4L676.6 514.9Z" fill="#fff" stroke="#1a1a1a" stroke-width="1.5" />
<ellipse cx="670" cy="502.5" rx="8.8" ry="14" transform="rotate(-28 670 502.5)" fill="#fff" stroke="#1a1a1a" stroke-width="1.5" />
<ellipse cx="670" cy="502.5" rx="7.9" ry="13.1" transform="rotate(-28 670 502.5)" fill="#fff" stroke="#111" stroke-width="3.4" />
<ellipse cx="670.8" cy="502.2" rx="5.5" ry="8.7" transform="rotate(-28 670.8 502.2)" fill="#fff" stroke="#1a1a1a" stroke-width="1.9" />
<ellipse cx="671" cy="502.2" rx="1.8" ry="2.5" transform="rotate(-28 671 502.2)" fill="#fff" stroke="#1a1a1a" stroke-width="1.1" />
<path d="M636.2 510L650.1 502A6.3 10.2 -28 0 1 659.7 520L645.8 528Z" fill="#fff" stroke="#1a1a1a" stroke-width="1.6" />
<path d="M635.8 509.3L638 508A6.8 11 -28 0 1 648.3 527.5L646.2 528.7Z" fill="#fff" stroke="#1a1a1a" stroke-width="1.6" />
<ellipse cx="641" cy="519" rx="6.8" ry="11" transform="rotate(-28 641 519)" fill="#fff" stroke="#1a1a1a" stroke-width="1.6" />
<ellipse cx="641" cy="519" rx="6.8" ry="11" transform="rotate(-28 641 519)" fill="#fff" stroke="#1a1a1a" stroke-width="1.5" />
<ellipse cx="641.4" cy="519" rx="4.2" ry="6.8" transform="rotate(-28 641.4 519)" fill="#fff" stroke="#1a1a1a" stroke-width="1.5" />
<path d="M640 513.6A3.4 5.5 -28 0 0 645.2 523.2" fill="none" stroke="#1a1a1a" stroke-width="1.1" />
<path d="M223.5 494.1C224.3 493.1 227.6 492.6 229 494.1C230.4 495.6 237.9 508.4 240 512C242.1 515.6 251 532.9 253.8 536.8C256.5 540.7 269.6 555.5 273 558.8C276.5 562 291.6 573.2 295 575.3C298.5 577.3 311.7 581.9 314.3 583.5C316.8 585.1 324 592 325.3 594.5C326.5 597 328.9 609.6 329.4 613.8C329.9 617.9 330.8 640.1 330.8 644C330.8 647.9 330.1 658.5 329.4 660.5C328.7 662.6 324.9 667 322.5 668.8C320.1 670.5 306.5 680.1 300.5 681.1C294.6 682.2 256.1 681.7 251 681.1C246 680.6 243.4 674.4 240 674.3C236.6 674.2 214.6 679.5 209.8 679.8C204.9 680 185.2 677.9 182.3 677C179.3 676.1 177.7 669.7 174 668.8C170.3 667.9 141.6 666.7 138.3 666C134.9 665.3 134.1 661.4 134.1 660.5C134.1 659.6 135.2 656.9 138.3 655C141.3 653.2 165.1 641.8 171.3 638.5C177.4 635.2 209.5 618.3 212.5 615.1C215.5 611.9 208.4 602.6 207 600C205.6 597.4 197 585.6 196 583.5C195 581.4 192.8 577.1 194.6 575.3C196.5 573.4 215.9 567.2 218 561.5C220.1 555.8 218.9 512.1 219.4 506.5C219.8 500.9 222.7 495.2 223.5 494.1Z" fill="#fff" stroke="#2e2e2e" stroke-width="1.6" />
<path d="M222 507C223.7 509.5 228.2 516 232 522C235.8 528 240.7 536.8 245 543C249.3 549.2 253.7 554.3 258 559C262.3 563.7 265.2 566.3 271 571C276.8 575.7 286.7 582.8 293 587C299.3 591.2 305 592.3 309 596C313 599.7 315.3 603.3 317 609C318.7 614.7 318.7 622.3 319 630C319.3 637.7 319 650.8 319 655" fill="none" stroke="#2e2e2e" stroke-width="1.2" />
<path d="M221 515C222.7 517.7 227.3 525 231 531C234.7 537 238.8 545 243 551C247.2 557 251.7 562.3 256 567C260.3 571.7 263.2 574.3 269 579C274.8 583.7 284.7 590.7 291 595C297.3 599.3 303.3 601.3 307 605C310.7 608.7 311.8 611.2 313 617C314.2 622.8 314.3 634.2 314.5 640C314.7 645.8 314.1 650 314 652" fill="none" stroke="#2e2e2e" stroke-width="1.1" />
<path d="M223 500L223 560" fill="none" stroke="#2e2e2e" stroke-width="1.1" />
<path d="M226.5 505L226.5 556" fill="none" stroke="#2e2e2e" stroke-width="0.9" />
<path d="M225 573L226 556L228 541L238 545L241 562L242 581" fill="none" stroke="#2e2e2e" stroke-width="1.3" />
<path d="M230 546L231 572" fill="none" stroke="#2e2e2e" stroke-width="0.9" />
<path d="M251 605L252 588L254 573L265 579L267.5 597L269 615" fill="none" stroke="#2e2e2e" stroke-width="1.3" />
<path d="M256.5 579L255 604" fill="none" stroke="#2e2e2e" stroke-width="0.9" />
<path d="M281 633L283 617L285 603L297 607L298.5 622L299 637" fill="none" stroke="#2e2e2e" stroke-width="1.3" />
<path d="M288 608L286 630" fill="none" stroke="#2e2e2e" stroke-width="0.9" />
<path d="M218 561C219.7 564.5 224.3 574.8 228 582C231.7 589.2 235.8 597.3 240 604C244.2 610.7 246.8 616.3 253 622C259.2 627.7 269.5 634 277 638C284.5 642 291.8 643 298 646C304.2 649 311.3 654.3 314 656" fill="none" stroke="#2e2e2e" stroke-width="1.5" />
<path d="M222 572C224 576 230.1 586.8 234 596C237.9 605.2 240.1 619.2 245.5 627C250.9 634.8 259.1 638.6 266.5 643C273.9 647.4 282.8 650.5 290 653.5C297.2 656.5 306.7 659.8 310 661" fill="none" stroke="#2e2e2e" stroke-width="1.1" />
<path d="M236 612C237.2 615 238.7 624 243 630C247.3 636 254.8 643.3 262 648C269.2 652.7 279 655.3 286 658C293 660.7 301 663 304 664" fill="none" stroke="#2e2e2e" stroke-width="1" />
<path d="M246 617 L252 626 M258 634 L268 640 M276 644 L288 649" fill="none" stroke="#2e2e2e" stroke-width="2.5" />
<path d="M194 576L215 564L220 569L201 581" fill="none" stroke="#2e2e2e" stroke-width="1.2" />
<path d="M201 581L212 606" fill="none" stroke="#2e2e2e" stroke-width="1.2" />
<path d="M196 583L207 604L212.5 613" fill="none" stroke="#2e2e2e" stroke-width="1" />
<path d="M220 569L229 590" fill="none" stroke="#2e2e2e" stroke-width="1" />
<path d="M138 657L175 633L211 609" fill="none" stroke="#2e2e2e" stroke-width="1.1" />
<path d="M146 660L182 637L217 614L222 620" fill="none" stroke="#2e2e2e" stroke-width="1.1" />
<path d="M141 664L176 671.5" fill="none" stroke="#2e2e2e" stroke-width="1" />
<path d="M177 672L198 657L217 647L230 642L235 643L243 651L261 659" fill="none" stroke="#2e2e2e" stroke-width="1.3" />
<path d="M198 657L209 664L227 664L261 659" fill="none" stroke="#2e2e2e" stroke-width="1.2" />
<path d="M209 664L187 678" fill="none" stroke="#2e2e2e" stroke-width="1.1" />
<path d="M261 659L243 680" fill="none" stroke="#2e2e2e" stroke-width="1.2" />
<path d="M227 664L228.5 652" fill="none" stroke="#2e2e2e" stroke-width="1.1" />
<path d="M230 642L230 652" fill="none" stroke="#2e2e2e" stroke-width="1" />
<path d="M185 676L206 677L222 668" fill="none" stroke="#2e2e2e" stroke-width="1" />
<path d="M243 680L261 667L293 659L306 664" fill="none" stroke="#2e2e2e" stroke-width="1.2" />
<path d="M261 659L287 652" fill="none" stroke="#2e2e2e" stroke-width="1.1" />
<path d="M250 676L266 671L300 671" fill="none" stroke="#2e2e2e" stroke-width="0.9" />
<path d="M322 664C322.7 662.7 325.2 660 326 656C326.8 652 326.8 642.7 327 640" fill="none" stroke="#2e2e2e" stroke-width="1.1" />
<ellipse cx="231" cy="614" rx="9.8" ry="6" transform="rotate(0 231 614)" fill="#fff" stroke="#1a1a1a" stroke-width="1.7" />
<ellipse cx="231" cy="613.2" rx="6.8" ry="3.8" transform="rotate(0 231 613.2)" fill="#fff" stroke="#1a1a1a" stroke-width="1.2" />
<circle cx="231" cy="613.4" r="0.9" fill="#222"/>
<ellipse cx="163.6" cy="654.8" rx="9.8" ry="6" transform="rotate(0 163.6 654.8)" fill="#fff" stroke="#1a1a1a" stroke-width="1.7" />
<ellipse cx="163.6" cy="654" rx="6.8" ry="3.8" transform="rotate(0 163.6 654)" fill="#fff" stroke="#1a1a1a" stroke-width="1.2" />
<circle cx="163.6" cy="654.2" r="0.9" fill="#222"/>
<ellipse cx="294" cy="662.5" rx="9.8" ry="6" transform="rotate(0 294 662.5)" fill="#fff" stroke="#1a1a1a" stroke-width="1.7" />
<ellipse cx="294" cy="661.7" rx="6.8" ry="3.8" transform="rotate(0 294 661.7)" fill="#fff" stroke="#1a1a1a" stroke-width="1.2" />
<circle cx="294" cy="661.9" r="0.9" fill="#222"/>
<path d="M284.5 666C285.2 666.7 286.6 669.3 289 670C291.4 670.7 296.5 670.7 299 670C301.5 669.3 303.2 666.7 304 666" fill="none" stroke="#1a1a1a" stroke-width="1.6" />
<path d="M160.3 676.5L160.3 693.5" fill="none" stroke="#1a1a1a" stroke-width="1.2" />
<ellipse cx="160.3" cy="700.5" rx="5" ry="3.2" fill="#fff" stroke="#111" stroke-width="1.7"/>
<rect x="157.1" y="695" width="6.4" height="5" rx="1.5" fill="#fff" stroke="#111" stroke-width="1.6"/>
<ellipse cx="160.3" cy="704" rx="3" ry="2.2" fill="#333" stroke="#111" stroke-width="1"/>
<path d="M291 681L291 698" fill="none" stroke="#1a1a1a" stroke-width="1.2" />
<ellipse cx="291" cy="705" rx="5" ry="3.2" fill="#fff" stroke="#111" stroke-width="1.7"/>
<rect x="287.8" y="699.5" width="6.4" height="5" rx="1.5" fill="#fff" stroke="#111" stroke-width="1.6"/>
<ellipse cx="291" cy="708.5" rx="3" ry="2.2" fill="#333" stroke="#111" stroke-width="1"/>
<rect x="226" y="652" width="3.4" height="7.5" rx="1.2" fill="#fff" stroke="#111" stroke-width="1.3"/>
<path d="M240 281C242.9 278.2 248.3 277.1 251 275C253.7 272.9 254.2 269.9 256 268.5C257.8 267.1 259.7 266.1 262 266.5C264.3 266.9 267.7 268.6 270 271C272.3 273.4 273.5 276.3 276 281C278.5 285.7 281.4 293.3 285 299C288.6 304.7 293.7 309.8 297.5 315C301.3 320.2 304.9 324.2 308 330C311.1 335.8 314.2 343.7 316 350C317.8 356.3 317.5 363.7 319 368C320.5 372.3 322.5 375.5 325 376C327.5 376.5 331 372 334 371C337 370 340.3 369 343 370C345.7 371 347.7 373 350 377C352.3 381 353.8 388.7 357 394C360.2 399.3 365.2 404.7 369 409C372.8 413.3 376.3 416.8 380 420C383.7 423.2 386.7 424.8 391 428C395.3 431.2 402.2 436.7 406 439C409.8 441.3 411 439.8 414 442C417 444.2 422.2 448.3 424 452C425.8 455.7 426 460.7 425 464C424 467.3 420.8 470.5 418 472C415.2 473.5 411 473.7 408 473C405 472.3 401.7 470.8 400 468C398.3 465.2 400.7 459.5 398 456C395.3 452.5 389.5 450.3 384 447C378.5 443.7 371.7 440.1 365 436C358.3 431.9 350.5 427.5 344 422.5C337.5 417.5 330.3 407.8 326 406C321.7 404.2 321 412.3 318 412C315 411.7 310.5 407.3 308 404C305.5 400.7 305.7 399 303 392C300.3 385 295.5 370 292 362C288.5 354 284.4 349 282 344C279.6 339 280.3 336 277.5 332C274.7 328 269.2 324.2 265 320C260.8 315.8 256.2 310 252 307C247.8 304 243.1 304.5 240 302C236.9 299.5 233.5 295.5 233.5 292C233.5 288.5 237.1 283.8 240 281Z" fill="#fff" stroke="#1a1a1a" stroke-width="2.2" />
<path d="M108 362C108.2 358.5 110 354.3 112 352C114 349.7 117.7 348.5 120 348C122.3 347.5 124.7 350.2 126 349C127.3 347.8 126.3 342.8 128 341C129.7 339.2 133.3 337.5 136 338C138.7 338.5 142.2 341.3 144 344C145.8 346.7 145.3 350.2 147 354C148.7 357.8 150.8 363.2 154 367C157.2 370.8 161.5 374.1 166 377C170.5 379.9 175.8 382.2 181 384.5C186.2 386.8 191.7 388.7 197.5 391C203.3 393.3 209.8 396.2 216 398.5C222.2 400.8 229.3 403 235 405C240.7 407 245.5 408.7 250 410.5C254.5 412.3 258.7 415.1 262 416C265.3 416.9 267.7 414.7 270 416C272.3 417.3 272.7 419.3 276 424C279.3 428.7 284.7 438.3 290 444C295.3 449.7 301.8 453.2 308 458C314.2 462.8 322.2 470 327 473C331.8 476 333.8 475 337 476C340.2 477 342.8 478 346 479C349.2 480 353.3 479.8 356 482C358.7 484.2 361.3 488.5 362 492C362.7 495.5 361.8 500.2 360 503C358.2 505.8 354.3 508.2 351 509C347.7 509.8 344 509.2 340 508C336 506.8 332.2 504.1 327 502C321.8 499.9 314.8 497.8 309 495.5C303.2 493.2 297.3 490.8 292 488C286.7 485.2 282.7 482.4 277 479C271.3 475.6 264 471.9 258 467.5C252 463.1 245.7 456.9 241 452.5C236.3 448.1 232.5 444.1 230 441C227.5 437.9 227.2 435.4 226 434C224.8 432.6 226.8 433.6 222.5 432.5C218.2 431.4 206.2 429.1 200 427.5C193.8 425.9 190 424.7 185 423C180 421.3 175.8 420.5 170 417.5C164.2 414.5 156.2 409.6 150 405C143.8 400.4 137.3 394.4 132.5 390C127.7 385.6 124.6 381.3 121 378.5C117.4 375.7 113.2 375.8 111 373C108.8 370.2 107.8 365.5 108 362Z" fill="#fff" stroke="#1a1a1a" stroke-width="2.2" />
<path d="M337 476C333.8 472.8 338.2 468.8 340 466C341.8 463.2 343.8 461.2 348 459C352.2 456.8 359 454.5 365 453C371 451.5 378.3 450 384 450C389.7 450 395.3 450 399 453C402.7 456 406.2 466.5 406 468C405.8 469.5 402.3 462.2 398 462C393.7 461.8 385 465 380 467C375 469 371.5 471 368 474C364.5 477 364.2 484.7 359 485C353.8 485.3 340.2 479.2 337 476Z" fill="#fff" stroke="#1a1a1a" stroke-width="1.7" />
<path d="M296 451C297.7 449.8 302 446.2 306 444C310 441.8 314 439.5 320 437.5C326 435.5 334.5 432.7 342 432C349.5 431.3 358.7 432 365 433.5C371.3 435 375.5 438.4 380 441C384.5 443.6 390 447.7 392 449" fill="none" stroke="#1a1a1a" stroke-width="1.6" />
<path d="M305 460C306.8 459 312.2 455.6 316 454C319.8 452.4 322.2 451.8 327.5 450.5C332.8 449.2 341.1 446.6 348 446C354.9 445.4 363 445.8 369 447C375 448.2 381.5 452 384 453" fill="none" stroke="#1a1a1a" stroke-width="1.3" />
<path d="M318 412C319.3 411 322.3 406.3 326 406C329.7 405.7 335 407.7 340 410C345 412.3 350.7 416.3 356 420C361.3 423.7 367 428.5 372 432C377 435.5 381.7 438.2 386 441C390.3 443.8 396 447.7 398 449" fill="none" stroke="#1a1a1a" stroke-width="1.5" />
<path d="M352 386C353.7 388.7 358 397.2 362 402C366 406.8 371 410.8 376 415C381 419.2 386.7 423.3 392 427C397.3 430.7 405.3 435.3 408 437" fill="none" stroke="#1a1a1a" stroke-width="1.2" />
<path d="M346 394C347.7 396.5 352 404.5 356 409C360 413.5 364.7 417 370 421C375.3 425 382.7 429.5 388 433C393.3 436.5 399.7 440.5 402 442" fill="none" stroke="#1a1a1a" stroke-width="1.1" />
<path d="M262 279C263.7 280.3 268.7 283.5 272 287C275.3 290.5 277.7 295 282 300C286.3 305 293.8 311.3 298 317C302.2 322.7 304.7 328.2 307 334C309.3 339.8 310.7 346 312 352C313.3 358 314.5 367 315 370" fill="none" stroke="#1a1a1a" stroke-width="1.2" />
<path d="M252 302C253.7 303.7 258.5 308.2 262 312C265.5 315.8 269.2 319.8 273 325C276.8 330.2 281.3 336.5 285 343C288.7 349.5 291.8 356.5 295 364C298.2 371.5 302.5 384 304 388" fill="none" stroke="#1a1a1a" stroke-width="1.2" />
<path d="M268 290C269.8 292.3 275 299 279 304C283 309 288.3 314.3 292 320C295.7 325.7 298.5 331.7 301 338C303.5 344.3 305.3 351.3 307 358C308.7 364.7 310.3 374.7 311 378" fill="none" stroke="#1a1a1a" stroke-width="1.1" />
<path d="M259 296C260.8 298 266.3 303.5 270 308C273.7 312.5 277.5 317.3 281 323C284.5 328.7 288 335.5 291 342C294 348.5 296.3 354.7 299 362C301.7 369.3 305.7 382 307 386" fill="none" stroke="#1a1a1a" stroke-width="1.1" />
<rect x="266" y="296.2" width="12" height="3.6" rx="1.8" fill="#fff" stroke="#1a1a1a" stroke-width="1.3" transform="rotate(52 272 298)"/>
<rect x="278" y="313.2" width="12" height="3.6" rx="1.8" fill="#fff" stroke="#1a1a1a" stroke-width="1.3" transform="rotate(56 284 315)"/>
<rect x="289" y="334.2" width="14" height="3.6" rx="1.8" fill="#fff" stroke="#1a1a1a" stroke-width="1.3" transform="rotate(64 296 336)"/>
<rect x="297" y="355.2" width="14" height="3.6" rx="1.8" fill="#fff" stroke="#1a1a1a" stroke-width="1.3" transform="rotate(72 304 357)"/>
<rect x="305" y="373.3" width="8" height="3.4" rx="1.7" fill="#fff" stroke="#1a1a1a" stroke-width="1.3" transform="rotate(76 309 375)"/>
<path d="M148 360C149.7 362 154.3 368.7 158 372C161.7 375.3 165.3 377.4 170 380C174.7 382.6 180.3 385.1 186 387.5C191.7 389.9 197.7 392.1 204 394.5C210.3 396.9 217.3 399.6 224 402C230.7 404.4 238.3 407 244 409C249.7 411 255.7 413.2 258 414" fill="none" stroke="#1a1a1a" stroke-width="1.2" />
<path d="M126 378C127.8 379.3 133 383 137 386C141 389 144.8 393 150 396C155.2 399 163 401.7 168 404C173 406.3 175.3 407.7 180 410C184.7 412.3 190.3 415.5 196 418C201.7 420.5 208.7 423 214 425C219.3 427 225.7 429.2 228 430" fill="none" stroke="#1a1a1a" stroke-width="1.2" />
<path d="M140 368C142 370 147.7 376.7 152 380C156.3 383.3 160.7 385.5 166 388C171.3 390.5 177.7 392.6 184 395C190.3 397.4 197 400 204 402.5C211 405 219 407.6 226 410C233 412.4 242.7 415.8 246 417" fill="none" stroke="#1a1a1a" stroke-width="1.1" />
<rect x="174.5" y="392.8" width="10" height="3.4" rx="1.7" fill="#fff" stroke="#1a1a1a" stroke-width="1.3" transform="rotate(22 179.5 394.5)"/>
<rect x="188" y="398" width="20" height="4" rx="2" fill="#fff" stroke="#1a1a1a" stroke-width="1.3" transform="rotate(22 198 400)"/>
<rect x="212" y="407" width="18" height="4" rx="2" fill="#fff" stroke="#1a1a1a" stroke-width="1.3" transform="rotate(22 221 409)"/>
<rect x="238" y="415.7" width="12" height="3.6" rx="1.8" fill="#fff" stroke="#1a1a1a" stroke-width="1.3" transform="rotate(22 244 417.5)"/>
<path d="M112.5 351L116.5 348.7A10.5 15 -30 0 1 131.5 374.7L127.5 377Z" fill="#fff" stroke="#1a1a1a" stroke-width="1.8" />
<ellipse cx="120" cy="364" rx="10.5" ry="15" transform="rotate(-30 120 364)" fill="#fff" stroke="#1a1a1a" stroke-width="1.8" />
<ellipse cx="120" cy="364" rx="10.5" ry="15" transform="rotate(-30 120 364)" fill="#fff" stroke="#1a1a1a" stroke-width="2.2" />
<ellipse cx="118.8" cy="364.8" rx="7.2" ry="10.6" transform="rotate(-30 118.8 364.8)" fill="#fff" stroke="#1a1a1a" stroke-width="1.8" />
<path d="M115.2 352.4A8.6 12.5 -30 0 1 127.8 374" fill="none" stroke="#1a1a1a" stroke-width="1.1" />
<ellipse cx="133" cy="348.8" rx="2.8" ry="3.6" transform="rotate(-30 133 348.8)" fill="#fff" stroke="#1a1a1a" stroke-width="2" />
<path d="M131 341C132 340.8 135.2 339.2 137 340C138.8 340.8 140.7 343.8 142 346C143.3 348.2 144.3 350.7 145 353C145.7 355.3 145.8 358.8 146 360" fill="none" stroke="#1a1a1a" stroke-width="1.2" />
<path d="M126 349C126.7 349.8 128 352.7 130 354C132 355.3 135.3 356.8 138 357C140.7 357.2 144.7 355.3 146 355" fill="none" stroke="#1a1a1a" stroke-width="1.2" />
<path d="M146 363 L152.5 367.5 L150 372.5 L143.5 368 Z" fill="none" stroke="#1a1a1a" stroke-width="1.5" />
<path d="M237.8 279.9L240.8 278.2A10 14.5 -30 0 1 255.2 303.4L252.2 305.1Z" fill="#fff" stroke="#1a1a1a" stroke-width="1.7" />
<ellipse cx="245" cy="292.5" rx="10" ry="14.5" transform="rotate(-30 245 292.5)" fill="#fff" stroke="#1a1a1a" stroke-width="1.7" />
<ellipse cx="245" cy="292.5" rx="10" ry="14.5" transform="rotate(-30 245 292.5)" fill="#fff" stroke="#1a1a1a" stroke-width="2.1" />
<ellipse cx="244.6" cy="293" rx="7.4" ry="11" transform="rotate(-30 244.6 293)" fill="#fff" stroke="#1a1a1a" stroke-width="1.3" />
<path d="M207.7 305.8L239.7 287.8A4.3 7 -28 0 1 246.3 300.2L214.3 318.2Z" fill="#fff" stroke="#1a1a1a" stroke-width="1.6" />
<ellipse cx="211" cy="312" rx="4.3" ry="7" transform="rotate(-28 211 312)" fill="#fff" stroke="#1a1a1a" stroke-width="1.6" />
<ellipse cx="211" cy="312" rx="4.3" ry="7" transform="rotate(-28 211 312)" fill="#fff" stroke="#1a1a1a" stroke-width="1.6" />
<ellipse cx="211.3" cy="312" rx="2.6" ry="4.2" transform="rotate(-28 211.3 312)" fill="#fff" stroke="#1a1a1a" stroke-width="1.3" />
<path d="M241.2 284A6.6 9.6 -30 0 1 250.8 300.6" fill="none" stroke="#1a1a1a" stroke-width="1.8" />
<ellipse cx="258" cy="276" rx="2.3" ry="3" transform="rotate(-30 258 276)" fill="#fff" stroke="#1a1a1a" stroke-width="1.7" />
<path d="M253 274.5C254 273.7 255.8 271 258 270.5C260.2 270 262 270.5 264 272C266 273.5 266.8 275.4 268 278C269.2 280.6 269.6 283.6 270 285" fill="none" stroke="#1a1a1a" stroke-width="1.2" />
<path d="M270.5 295 L277 299.5 L274.5 304 L268 299.5 Z" fill="none" stroke="#1a1a1a" stroke-width="1.5" />
<path d="M306.9 390.6C308.4 387.2 309.9 387.1 312.5 386.5C315.1 385.9 317.6 385.9 320 387.5C322.4 389.1 323.9 391.1 324.7 394.4C325.5 397.7 324.8 400.4 324 404C323.2 407.6 321.8 410.3 320.5 412.5C319.2 414.7 320.6 416.8 317.5 415C314.4 413.2 307.1 408.6 305 403.8C302.9 398.9 305.4 394.1 306.9 390.6Z" fill="#fff" stroke="#1a1a1a" stroke-width="2" />
<ellipse cx="315.3" cy="396.3" rx="2.8" ry="3.6" transform="rotate(-30 315.3 396.3)" fill="#fff" stroke="#1a1a1a" stroke-width="1.7" />
<ellipse cx="315.3" cy="396.3" rx="1.2" ry="1.5" transform="rotate(0 315.3 396.3)" fill="#fff" stroke="#1a1a1a" stroke-width="1" />
<path d="M309 392C310 391.7 312 390.5 314 390.5C316 390.5 317.5 390.5 319 392C320.5 393.5 321.2 395.2 321.5 398C321.8 400.8 320.7 404.4 320.5 406" fill="none" stroke="#1a1a1a" stroke-width="1.1" />
<path d="M332.2 377C333.1 372.3 334.1 372.3 336.5 371C338.9 369.7 341.7 369.2 344.4 370.5C347.1 371.8 348.8 374.2 350 377.5C351.2 380.8 351.5 383.3 350.5 387C349.5 390.7 347.5 393.7 345 396C342.5 398.3 340.6 398.8 338 398.5C335.4 398.2 333.4 398.7 332.2 394.4C331 390.1 331.3 381.7 332.2 377Z" fill="#fff" stroke="#1a1a1a" stroke-width="2" />
<ellipse cx="338.8" cy="382.2" rx="2.6" ry="4.2" transform="rotate(-30 338.8 382.2)" fill="#fff" stroke="#1a1a1a" stroke-width="1.7" />
<path d="M335 377C335.8 376.5 337 374.7 339 374.5C341 374.3 343.3 374.5 345 376C346.7 377.5 347.2 379.2 347.5 382C347.8 384.8 346.7 388.4 346.5 390" fill="none" stroke="#1a1a1a" stroke-width="1.1" />
<path d="M324.7 394.4 L332.2 388.8 M324 404 L332.2 396.3 M326 399 L332 393" fill="none" stroke="#1a1a1a" stroke-width="1.5" />
<path d="M305 403.8L307 414L312 420L318 415" fill="#fff" stroke="#1a1a1a" stroke-width="1.7" />
<path d="M307 414L302 421L296 424" fill="none" stroke="#1a1a1a" stroke-width="1.5" />
<path d="M270 416C271.4 415.8 274.2 414.1 277 415C279.8 415.9 280.8 419.7 284 420.5C287.2 421.3 289.4 421.1 293 419C296.6 416.9 299.3 413 302 410C304.7 407 305.6 405.2 306.5 404" fill="none" stroke="#1a1a1a" stroke-width="1.8" />
<path d="M276 424.5C277.6 425 280.4 426.8 284 427C287.6 427.2 290 427.1 294 425.5C298 423.9 302 420.3 304 419" fill="none" stroke="#1a1a1a" stroke-width="1.5" />
<path d="M291 422.5 L305 420.5" fill="none" stroke="#1a1a1a" stroke-width="3.4" />
<path d="M288 427 L300 424" fill="none" stroke="#1a1a1a" stroke-width="1.3" />
<ellipse cx="265.6" cy="430" rx="6" ry="7.4" transform="rotate(-30 265.6 430)" fill="#fff" stroke="#1a1a1a" stroke-width="2.2" />
<ellipse cx="265.2" cy="430.4" rx="3.3" ry="4.2" transform="rotate(-30 265.2 430.4)" fill="#fff" stroke="#1a1a1a" stroke-width="1.8" />
<path d="M264.1 426.4A3.3 4.2 -30 0 1 268.3 433.6" fill="none" stroke="#1a1a1a" stroke-width="2.2" />
<path d="M270.3 441.5C271.4 440.6 273.5 437.9 276 437C278.5 436.1 280.4 436.2 283 437C285.6 437.8 287 439 289 441C291 443 291.8 444.6 293 447C294.2 449.4 294.6 451.8 295 453" fill="none" stroke="#1a1a1a" stroke-width="2.9" />
<path d="M273 430C273.7 431.6 274.9 434.8 276.5 438C278.1 441.2 278.7 443 281 446C283.3 449 286.6 451.6 288 453" fill="none" stroke="#1a1a1a" stroke-width="2.5" />
<path d="M258 436C258.8 437.6 260 440.8 262 444C264 447.2 265.2 449.2 268 452C270.8 454.8 274.4 456.8 276 458" fill="none" stroke="#1a1a1a" stroke-width="1.8" />
<path d="M317.5 415C316.4 416.8 314.5 419.5 312 424C309.5 428.5 307.8 433.1 305 437.5C302.2 441.9 300.1 443.3 298 446C295.9 448.7 295.4 450 294.7 451" fill="none" stroke="#1a1a1a" stroke-width="1.6" />
<path d="M312 420C310.8 422 308.6 426 306 430C303.4 434 301.8 436.8 299 440C296.2 443.2 293.4 444.8 292 446" fill="none" stroke="#1a1a1a" stroke-width="1.1" />
<path d="M244 436C246 437.7 251.7 442.7 256 446C260.3 449.3 265.3 452.7 270 456C274.7 459.3 279 463 284 466C289 469 294 471.3 300 474C306 476.7 314 479.7 320 482C326 484.3 333.3 487 336 488" fill="none" stroke="#1a1a1a" stroke-width="1.3" />
<path d="M236 442C238.3 444.2 245 451 250 455C255 459 260.3 462.5 266 466C271.7 469.5 277.7 472.8 284 476C290.3 479.2 297.3 482.3 304 485C310.7 487.7 318.3 489.8 324 492C329.7 494.2 335.7 497 338 498" fill="none" stroke="#1a1a1a" stroke-width="1.2" />
<path d="M252 430C253.7 431.7 258 436.3 262 440C266 443.7 271 448.3 276 452C281 455.7 286.3 459 292 462C297.7 465 304 467.7 310 470C316 472.3 325 475 328 476" fill="none" stroke="#1a1a1a" stroke-width="1.2" />
<path d="M248 450 L256 441 M256 456 L263 448 M262 461 L270 451 M270 466 L277 457 M279 471 L286 462 M289 476 L296 467 M300 481 L306 472 M311 485 L317 477 M322 489 L327 481" fill="none" stroke="#1a1a1a" stroke-width="1.1" />
<path d="M240 440 L250 432 M245 446 L250 441 M268 447 L274 453 M280 455 L288 460 M296 464 L304 468" fill="none" stroke="#1a1a1a" stroke-width="1.3" />
<path d="M232 428 L246 424 L254 418 M226 433 L238 436 M240 428 L244 436 M232 436 L236 443" fill="none" stroke="#1a1a1a" stroke-width="1.3" />
<path d="M250 424C251.2 424.8 254.4 425.6 256 428C257.6 430.4 257.6 434.4 258 436" fill="none" stroke="#1a1a1a" stroke-width="2.2" />
<ellipse cx="413" cy="458.5" rx="10.5" ry="14.5" transform="rotate(-32 413 458.5)" fill="#fff" stroke="#1a1a1a" stroke-width="1.9" />
<ellipse cx="410" cy="458" rx="9.8" ry="13.5" transform="rotate(-32 410 458)" fill="#fff" stroke="#1a1a1a" stroke-width="1.7" />
<ellipse cx="408" cy="460" rx="1.9" ry="2.4" transform="rotate(0 408 460)" fill="#fff" stroke="#1a1a1a" stroke-width="1.2" />
<ellipse cx="349.5" cy="494" rx="11" ry="14.5" transform="rotate(-35 349.5 494)" fill="#fff" stroke="#1a1a1a" stroke-width="1.9" />
<ellipse cx="347.5" cy="494.5" rx="9.4" ry="12.5" transform="rotate(-35 347.5 494.5)" fill="#fff" stroke="#1a1a1a" stroke-width="1.6" />
<ellipse cx="346.3" cy="495.6" rx="3.6" ry="4.6" transform="rotate(-30 346.3 495.6)" fill="#fff" stroke="#1a1a1a" stroke-width="1.2" />
<ellipse cx="346.3" cy="495.6" rx="1.6" ry="2" transform="rotate(0 346.3 495.6)" fill="#fff" stroke="#1a1a1a" stroke-width="1.1" />
<path d="M149.5 424 L156 424 L155.2 458 L148.4 460 Z" fill="#fff" stroke="#1a1a1a" stroke-width="1.6" />
<path d="M129.5 426L144.5 417.4A2.3 3 -30 0 1 147.5 422.6L132.5 431.2Z" fill="#fff" stroke="#1a1a1a" stroke-width="1.5" />
<ellipse cx="131" cy="428.6" rx="2.3" ry="3" transform="rotate(-30 131 428.6)" fill="#fff" stroke="#1a1a1a" stroke-width="1.5" />
<ellipse cx="131" cy="428.6" rx="2.3" ry="3" transform="rotate(-30 131 428.6)" fill="#fff" stroke="#1a1a1a" stroke-width="2.2" />
<path d="M133.4 422.4L136.4 420.7A3 4.2 -30 0 1 140.6 427.9L137.6 429.6Z" fill="#fff" stroke="#1a1a1a" stroke-width="1.8" />
<ellipse cx="135.5" cy="426" rx="3" ry="4.2" transform="rotate(-30 135.5 426)" fill="#fff" stroke="#1a1a1a" stroke-width="1.8" />
<ellipse cx="135.5" cy="426" rx="3" ry="4.2" transform="rotate(-30 135.5 426)" fill="#fff" stroke="#1a1a1a" stroke-width="2.5" />
<path d="M138 418.7L141 417A3.5 5 -30 0 1 146 425.6L143 427.3Z" fill="#fff" stroke="#1a1a1a" stroke-width="1.8" />
<ellipse cx="140.5" cy="423" rx="3.5" ry="5" transform="rotate(-30 140.5 423)" fill="#fff" stroke="#1a1a1a" stroke-width="1.8" />
<ellipse cx="140.5" cy="423" rx="3.5" ry="5" transform="rotate(-30 140.5 423)" fill="#fff" stroke="#1a1a1a" stroke-width="2.7" />
<path d="M143.9 408.8L155.4 402.5A6.8 9.8 -28 0 1 164.6 419.9L153.1 426.2Z" fill="#fff" stroke="#1a1a1a" stroke-width="1.7" />
<ellipse cx="148.5" cy="417.5" rx="6.8" ry="9.8" transform="rotate(-28 148.5 417.5)" fill="#fff" stroke="#1a1a1a" stroke-width="1.7" />
<ellipse cx="148.5" cy="417.5" rx="6.8" ry="9.8" transform="rotate(-28 148.5 417.5)" fill="#fff" stroke="#1a1a1a" stroke-width="1.9" />
<ellipse cx="148" cy="418" rx="4.8" ry="7" transform="rotate(-28 148 418)" fill="#fff" stroke="#1a1a1a" stroke-width="2.9" />
<ellipse cx="147.6" cy="418.4" rx="2.4" ry="3.6" transform="rotate(-28 147.6 418.4)" fill="#666" stroke="#1a1a1a" stroke-width="1.8" />
<path d="M158.6 459.6L174.6 450.6A2.1 2.8 -30 0 1 177.4 455.4L161.4 464.4Z" fill="#fff" stroke="#1a1a1a" stroke-width="1.5" />
<ellipse cx="160" cy="462" rx="2.1" ry="2.8" transform="rotate(-30 160 462)" fill="#fff" stroke="#1a1a1a" stroke-width="1.5" />
<path d="M164.1 453.6L167.1 451.8A3.3 4.8 -30 0 1 171.9 460.2L168.9 462Z" fill="#fff" stroke="#1a1a1a" stroke-width="1.8" />
<ellipse cx="166.5" cy="457.8" rx="3.3" ry="4.8" transform="rotate(-30 166.5 457.8)" fill="#fff" stroke="#1a1a1a" stroke-width="1.8" />
<ellipse cx="166.5" cy="457.8" rx="3.3" ry="4.8" transform="rotate(-30 166.5 457.8)" fill="#fff" stroke="#1a1a1a" stroke-width="2" />
<path d="M170.6 451.3L174.1 449.3A2.7 3.8 -30 0 1 177.9 455.9L174.4 457.9Z" fill="#fff" stroke="#1a1a1a" stroke-width="1.8" />
<ellipse cx="172.5" cy="454.6" rx="2.7" ry="3.8" transform="rotate(-30 172.5 454.6)" fill="#fff" stroke="#1a1a1a" stroke-width="1.8" />
<ellipse cx="172.5" cy="454.6" rx="2.7" ry="3.8" transform="rotate(-30 172.5 454.6)" fill="#fff" stroke="#1a1a1a" stroke-width="2.2" />
<path d="M142.5 459L155 452.3A7 9.6 -28 0 1 164 469.3L151.5 476Z" fill="#fff" stroke="#1a1a1a" stroke-width="1.7" />
<ellipse cx="147" cy="467.5" rx="7" ry="9.6" transform="rotate(-28 147 467.5)" fill="#fff" stroke="#1a1a1a" stroke-width="1.7" />
<ellipse cx="147" cy="467.5" rx="7" ry="9.6" transform="rotate(-28 147 467.5)" fill="#fff" stroke="#1a1a1a" stroke-width="2" />
<circle cx="146.6" cy="468.2" r="1.2" fill="#222"/>
<path d="M147.3 457.3A6.4 9 -28 0 1 155.7 473.1" fill="none" stroke="#1a1a1a" stroke-width="1.2" />
<path d="M296 203.2L330 189L530 295L534 297L497 320L484 306L481 322L300 229.7Z" fill="#fff" stroke="none" stroke-width="1.6" />
<path d="M529 288C530.2 285.3 533.4 286.3 536 286.5C538.6 286.7 538.4 287.1 542 289C545.6 290.9 549.4 292.9 554 296C558.6 299.1 561.8 301.1 565 304.4C568.2 307.7 569 309.3 570 312.6C571 315.9 570.8 318.1 570 321C569.2 323.9 568.3 325.5 566 327C563.7 328.5 561.6 329.2 558.4 328.5C555.2 327.8 552.5 325.9 550 323.6C547.5 321.3 547.9 319.5 546 316.8C544.1 314.1 542.7 312 540.5 310C538.3 308 537.1 309 535 307C532.9 305 531.2 303.8 530 300C528.8 296.2 527.8 290.7 529 288Z" fill="#fff" stroke="#1a1a1a" stroke-width="2" />
<path d="M536 290C537.8 290.8 541 291.6 545 294C549 296.4 552.4 298.8 556 302C559.6 305.2 561.2 306.6 563 310C564.8 313.4 565.2 316 565 319C564.8 322 562.6 323.8 562 325" fill="none" stroke="#1a1a1a" stroke-width="1.2" />
<path d="M538 298C539.2 299 541.8 300.6 544 303C546.2 305.4 547.4 307 549 310C550.6 313 551.4 316.4 552 318" fill="none" stroke="#1a1a1a" stroke-width="1.1" />
<path d="M533 296 L542 300 M536 303 L545 309" fill="none" stroke="#1a1a1a" stroke-width="1.3" />
<ellipse cx="556.3" cy="316.2" rx="2.1" ry="2.7" transform="rotate(0 556.3 316.2)" fill="#fff" stroke="#1a1a1a" stroke-width="1.5" />
<path d="M493 311.5L529 291.5" fill="none" stroke="#1a1a1a" stroke-width="1.6" />
<path d="M498 321L535 300" fill="none" stroke="#1a1a1a" stroke-width="2.2" />
<path d="M495.5 316L532 295.5" fill="none" stroke="#1a1a1a" stroke-width="1.2" />
<path d="M489 309L524 289" fill="none" stroke="#1a1a1a" stroke-width="2" />
<path d="M334 195L528 294" fill="none" stroke="#1a1a1a" stroke-width="2.7" />
<path d="M338 204.1L520 296.9" fill="none" stroke="#1a1a1a" stroke-width="1.1" />
<path d="M340 199.6L340.4 204.6" fill="none" stroke="#999" stroke-width="0.8" />
<path d="M342.6 200.9L343 205.9" fill="none" stroke="#999" stroke-width="0.8" />
<path d="M345.2 202.3L345.6 207.3" fill="none" stroke="#999" stroke-width="0.8" />
<path d="M347.8 203.6L348.2 208.6" fill="none" stroke="#999" stroke-width="0.8" />
<path d="M350.4 204.9L350.8 209.9" fill="none" stroke="#999" stroke-width="0.8" />
<path d="M353 206.2L353.4 211.2" fill="none" stroke="#999" stroke-width="0.8" />
<path d="M355.6 207.6L356 212.6" fill="none" stroke="#999" stroke-width="0.8" />
<path d="M358.2 208.9L358.6 213.9" fill="none" stroke="#999" stroke-width="0.8" />
<path d="M360.8 210.2L361.2 215.2" fill="none" stroke="#999" stroke-width="0.8" />
<path d="M363.4 211.5L363.8 216.5" fill="none" stroke="#999" stroke-width="0.8" />
<path d="M366 212.9L366.4 217.9" fill="none" stroke="#999" stroke-width="0.8" />
<path d="M368.6 214.2L369 219.2" fill="none" stroke="#999" stroke-width="0.8" />
<path d="M371.2 215.5L371.6 220.5" fill="none" stroke="#999" stroke-width="0.8" />
<path d="M373.8 216.8L374.2 221.8" fill="none" stroke="#999" stroke-width="0.8" />
<path d="M376.4 218.2L376.8 223.2" fill="none" stroke="#999" stroke-width="0.8" />
<path d="M379 219.5L379.4 224.5" fill="none" stroke="#999" stroke-width="0.8" />
<path d="M381.6 220.8L382 225.8" fill="none" stroke="#999" stroke-width="0.8" />
<path d="M384.2 222.1L384.6 227.1" fill="none" stroke="#999" stroke-width="0.8" />
<path d="M386.8 223.5L387.2 228.5" fill="none" stroke="#999" stroke-width="0.8" />
<path d="M389.4 224.8L389.8 229.8" fill="none" stroke="#999" stroke-width="0.8" />
<path d="M392 226.1L392.4 231.1" fill="none" stroke="#999" stroke-width="0.8" />
<path d="M394.6 227.4L395 232.4" fill="none" stroke="#999" stroke-width="0.8" />
<path d="M397.2 228.8L397.6 233.8" fill="none" stroke="#999" stroke-width="0.8" />
<path d="M399.8 230.1L400.2 235.1" fill="none" stroke="#999" stroke-width="0.8" />
<path d="M402.4 231.4L402.8 236.4" fill="none" stroke="#999" stroke-width="0.8" />
<path d="M405 232.8L405.4 237.8" fill="none" stroke="#999" stroke-width="0.8" />
<path d="M407.6 234.1L408 239.1" fill="none" stroke="#999" stroke-width="0.8" />
<path d="M410.2 235.4L410.6 240.4" fill="none" stroke="#999" stroke-width="0.8" />
<path d="M412.8 236.7L413.2 241.7" fill="none" stroke="#999" stroke-width="0.8" />
<path d="M415.4 238.1L415.8 243.1" fill="none" stroke="#999" stroke-width="0.8" />
<path d="M418 239.4L418.4 244.4" fill="none" stroke="#999" stroke-width="0.8" />
<path d="M420.6 240.7L421 245.7" fill="none" stroke="#999" stroke-width="0.8" />
<path d="M423.2 242L423.6 247" fill="none" stroke="#999" stroke-width="0.8" />
<path d="M425.8 243.4L426.2 248.4" fill="none" stroke="#999" stroke-width="0.8" />
<path d="M428.4 244.7L428.8 249.7" fill="none" stroke="#999" stroke-width="0.8" />
<path d="M431 246L431.4 251" fill="none" stroke="#999" stroke-width="0.8" />
<path d="M433.6 247.3L434 252.3" fill="none" stroke="#999" stroke-width="0.8" />
<path d="M436.2 248.7L436.6 253.7" fill="none" stroke="#999" stroke-width="0.8" />
<path d="M438.8 250L439.2 255" fill="none" stroke="#999" stroke-width="0.8" />
<path d="M441.4 251.3L441.8 256.3" fill="none" stroke="#999" stroke-width="0.8" />
<path d="M444 252.6L444.4 257.6" fill="none" stroke="#999" stroke-width="0.8" />
<path d="M446.6 254L447 259" fill="none" stroke="#999" stroke-width="0.8" />
<path d="M449.2 255.3L449.6 260.3" fill="none" stroke="#999" stroke-width="0.8" />
<path d="M451.8 256.6L452.2 261.6" fill="none" stroke="#999" stroke-width="0.8" />
<path d="M454.4 257.9L454.8 262.9" fill="none" stroke="#999" stroke-width="0.8" />
<path d="M457 259.3L457.4 264.3" fill="none" stroke="#999" stroke-width="0.8" />
<path d="M459.6 260.6L460 265.6" fill="none" stroke="#999" stroke-width="0.8" />
<path d="M462.2 261.9L462.6 266.9" fill="none" stroke="#999" stroke-width="0.8" />
<path d="M464.8 263.2L465.2 268.2" fill="none" stroke="#999" stroke-width="0.8" />
<path d="M467.4 264.6L467.8 269.6" fill="none" stroke="#999" stroke-width="0.8" />
<path d="M470 265.9L470.4 270.9" fill="none" stroke="#999" stroke-width="0.8" />
<path d="M472.6 267.2L473 272.2" fill="none" stroke="#999" stroke-width="0.8" />
<path d="M475.2 268.6L475.6 273.6" fill="none" stroke="#999" stroke-width="0.8" />
<path d="M477.8 269.9L478.2 274.9" fill="none" stroke="#999" stroke-width="0.8" />
<path d="M480.4 271.2L480.8 276.2" fill="none" stroke="#999" stroke-width="0.8" />
<path d="M483 272.5L483.4 277.5" fill="none" stroke="#999" stroke-width="0.8" />
<path d="M485.6 273.9L486 278.9" fill="none" stroke="#999" stroke-width="0.8" />
<path d="M488.2 275.2L488.6 280.2" fill="none" stroke="#999" stroke-width="0.8" />
<path d="M490.8 276.5L491.2 281.5" fill="none" stroke="#999" stroke-width="0.8" />
<path d="M493.4 277.8L493.8 282.8" fill="none" stroke="#999" stroke-width="0.8" />
<path d="M496 279.2L496.4 284.2" fill="none" stroke="#999" stroke-width="0.8" />
<path d="M498.6 280.5L499 285.5" fill="none" stroke="#999" stroke-width="0.8" />
<path d="M501.2 281.8L501.6 286.8" fill="none" stroke="#999" stroke-width="0.8" />
<path d="M503.8 283.1L504.2 288.1" fill="none" stroke="#999" stroke-width="0.8" />
<path d="M506.4 284.5L506.8 289.5" fill="none" stroke="#999" stroke-width="0.8" />
<path d="M509 285.8L509.4 290.8" fill="none" stroke="#999" stroke-width="0.8" />
<path d="M511.6 287.1L512 292.1" fill="none" stroke="#999" stroke-width="0.8" />
<path d="M514.2 288.4L514.6 293.4" fill="none" stroke="#999" stroke-width="0.8" />
<path d="M516.8 289.8L517.2 294.8" fill="none" stroke="#999" stroke-width="0.8" />
<path d="M340 209.6L505 293.8" fill="none" stroke="#1a1a1a" stroke-width="1.2" />
<path d="M300 202.7L484 296.5" fill="none" stroke="#1a1a1a" stroke-width="1.1" />
<path d="M296 205.7L484 301.5" fill="none" stroke="#1a1a1a" stroke-width="2.1" />
<path d="M294 208.6L483 305" fill="none" stroke="#1a1a1a" stroke-width="1.2" />
<path d="M292 214.1L483 311.5" fill="none" stroke="#1a1a1a" stroke-width="1.2" />
<path d="M290 220.6L482 318.5" fill="none" stroke="#1a1a1a" stroke-width="1.8" />
<path d="M298 228.7L480 321.5" fill="none" stroke="#1a1a1a" stroke-width="1.3" />
<ellipse cx="354" cy="225.7" rx="8.5" ry="3.4" transform="rotate(27 354 225.7)" fill="#fff" stroke="#1a1a1a" stroke-width="1.6" />
<path d="M346 222.7C350 219.7 358 223.7 362 228.7" fill="none" stroke="#1a1a1a" stroke-width="2.9" />
<ellipse cx="388.5" cy="243.3" rx="8.5" ry="3.4" transform="rotate(27 388.5 243.3)" fill="#fff" stroke="#1a1a1a" stroke-width="1.6" />
<path d="M380.5 240.3C384.5 237.3 392.5 241.3 396.5 246.3" fill="none" stroke="#1a1a1a" stroke-width="2.9" />
<ellipse cx="423" cy="260.9" rx="8.5" ry="3.4" transform="rotate(27 423 260.9)" fill="#fff" stroke="#1a1a1a" stroke-width="1.6" />
<path d="M415 257.9C419 254.9 427 258.9 431 263.9" fill="none" stroke="#1a1a1a" stroke-width="2.9" />
<ellipse cx="457.5" cy="278.5" rx="8.5" ry="3.4" transform="rotate(27 457.5 278.5)" fill="#fff" stroke="#1a1a1a" stroke-width="1.6" />
<path d="M449.5 275.5C453.5 272.5 461.5 276.5 465.5 281.5" fill="none" stroke="#1a1a1a" stroke-width="2.9" />
<ellipse cx="492" cy="296.1" rx="8.5" ry="3.4" transform="rotate(27 492 296.1)" fill="#fff" stroke="#1a1a1a" stroke-width="1.6" />
<path d="M484 293.1C488 290.1 496 294.1 500 299.1" fill="none" stroke="#1a1a1a" stroke-width="2.9" />
<path d="M368 224.4L375 241.9" fill="none" stroke="#1a1a1a" stroke-width="4" />
<path d="M361 236.9C368 235.4 374 232.4 382 231.9" fill="none" stroke="#1a1a1a" stroke-width="4" />
<path d="M368 224.4L375 241.9" fill="none" stroke="#fff" stroke-width="1.7" />
<path d="M361 236.9C368 235.4 374 232.4 382 231.9" fill="none" stroke="#fff" stroke-width="1.7" />
<path d="M372 228.4L379 225.9" fill="none" stroke="#1a1a1a" stroke-width="2" />
<path d="M364 240.4L370 238.4" fill="none" stroke="#1a1a1a" stroke-width="1.8" />
<path d="M402.5 242L409.5 259.5" fill="none" stroke="#1a1a1a" stroke-width="4" />
<path d="M395.5 254.5C402.5 253 408.5 250 416.5 249.5" fill="none" stroke="#1a1a1a" stroke-width="4" />
<path d="M402.5 242L409.5 259.5" fill="none" stroke="#fff" stroke-width="1.7" />
<path d="M395.5 254.5C402.5 253 408.5 250 416.5 249.5" fill="none" stroke="#fff" stroke-width="1.7" />
<path d="M406.5 246L413.5 243.5" fill="none" stroke="#1a1a1a" stroke-width="2" />
<path d="M398.5 258L404.5 256" fill="none" stroke="#1a1a1a" stroke-width="1.8" />
<path d="M437 259.6L444 277.1" fill="none" stroke="#1a1a1a" stroke-width="4" />
<path d="M430 272.1C437 270.6 443 267.6 451 267.1" fill="none" stroke="#1a1a1a" stroke-width="4" />
<path d="M437 259.6L444 277.1" fill="none" stroke="#fff" stroke-width="1.7" />
<path d="M430 272.1C437 270.6 443 267.6 451 267.1" fill="none" stroke="#fff" stroke-width="1.7" />
<path d="M441 263.6L448 261.1" fill="none" stroke="#1a1a1a" stroke-width="2" />
<path d="M433 275.6L439 273.6" fill="none" stroke="#1a1a1a" stroke-width="1.8" />
<path d="M471.5 277.2L478.5 294.7" fill="none" stroke="#1a1a1a" stroke-width="4" />
<path d="M464.5 289.7C471.5 288.2 477.5 285.2 485.5 284.7" fill="none" stroke="#1a1a1a" stroke-width="4" />
<path d="M471.5 277.2L478.5 294.7" fill="none" stroke="#fff" stroke-width="1.7" />
<path d="M464.5 289.7C471.5 288.2 477.5 285.2 485.5 284.7" fill="none" stroke="#fff" stroke-width="1.7" />
<path d="M475.5 281.2L482.5 278.7" fill="none" stroke="#1a1a1a" stroke-width="2" />
<path d="M467.5 293.2L473.5 291.2" fill="none" stroke="#1a1a1a" stroke-width="1.8" />
<path d="M484 302.5L487 309 L492.4 312.5" fill="none" stroke="#1a1a1a" stroke-width="1.6" />
<path d="M482 319L485 333" fill="none" stroke="#1a1a1a" stroke-width="1.6" />
<path d="M505 293.8L489 303" fill="none" stroke="#1a1a1a" stroke-width="1.3" />
<path d="M487 321C488.5 319.2 490.3 320.7 493 321.5C495.7 322.3 496.6 322.6 500.6 325C504.6 327.4 509.1 330 513 333.3C516.9 336.6 518.5 338.2 520 341.5C521.5 344.8 521.4 346.8 520.6 349.8C519.8 352.8 518.4 355.1 515.8 356.7C513.2 358.3 511.1 358.8 507.5 358C503.9 357.2 501.5 355.5 497.9 352.5C494.3 349.5 492.1 347.4 489.6 343C487.1 338.6 486 334.9 485.5 330.5C485 326.1 485.5 322.8 487 321Z" fill="#fff" stroke="#1a1a1a" stroke-width="2.1" />
<path d="M489 326C489.3 327.8 489.1 331.2 490.5 335C491.9 338.8 493.5 341.8 496 345C498.5 348.2 500.2 349.3 503 351C505.8 352.7 507.6 353.5 510 353.5C512.4 353.5 514 351.5 515 351" fill="none" stroke="#1a1a1a" stroke-width="1.2" />
<path d="M492 323.5C493.8 324.4 497.4 325.7 501 328C504.6 330.3 507.1 332.2 510 335C512.9 337.8 514.4 340.6 515.5 342" fill="none" stroke="#1a1a1a" stroke-width="1.2" />
<path d="M489 331 L496 336 L494 343 M496 336 L503 333 M498 347 L503 341 L510 343" fill="none" stroke="#1a1a1a" stroke-width="1.1" />
<ellipse cx="506.2" cy="344.6" rx="4.4" ry="5.4" transform="rotate(-20 506.2 344.6)" fill="#fff" stroke="#1a1a1a" stroke-width="1.5" />
<ellipse cx="506.2" cy="344.6" rx="1.9" ry="2.3" transform="rotate(0 506.2 344.6)" fill="#fff" stroke="#1a1a1a" stroke-width="1.2" />
<path d="M270.4 201.9L316.7 173.6A10 14.6 -30 0 1 331.3 198.8L285 227.1Z" fill="#fff" stroke="#1a1a1a" stroke-width="1.8" />
<ellipse cx="277.7" cy="214.5" rx="10" ry="14.6" transform="rotate(-30 277.7 214.5)" fill="#fff" stroke="#1a1a1a" stroke-width="1.8" />
<ellipse cx="277.7" cy="214.5" rx="10" ry="14.6" transform="rotate(-30 277.7 214.5)" fill="#fff" stroke="#1a1a1a" stroke-width="1.9" />
<ellipse cx="278.9" cy="214.2" rx="7.2" ry="11" transform="rotate(-30 278.9 214.2)" fill="#fff" stroke="#1a1a1a" stroke-width="1.6" />
<path d="M264 213 L270 216" fill="none" stroke="#1a1a1a" stroke-width="1.3" />
<path d="M286.2 192.5A9.2 13.6 -30 0 1 299.8 216.1" fill="none" stroke="#1a1a1a" stroke-width="1.3" />
<path d="M290.4 190.6A9 13.2 -30 0 1 303.6 213.4" fill="none" stroke="#1a1a1a" stroke-width="1.1" />
<ellipse cx="324.5" cy="179" rx="3.4" ry="2.6" transform="rotate(-60 324.5 179)" fill="#222" stroke="#1a1a1a" stroke-width="1.1" />
<path d="M287 224 L300 236 L312 236 M290 219 L303 229 L316 231" fill="none" stroke="#1a1a1a" stroke-width="1.3" />
<ellipse cx="304" cy="191.5" rx="3.4" ry="2.4" transform="rotate(-60 304 191.5)" fill="#fff" stroke="#1a1a1a" stroke-width="2" />
<ellipse cx="316" cy="203" rx="3.8" ry="2.6" transform="rotate(-60 316 203)" fill="#fff" stroke="#1a1a1a" stroke-width="2" />
<path d="M296 197 C302 190 310 187 318 191 M309 207 C314 199 322 197 330 200 M318 191 L323 198 M300 201 L312 194" fill="none" stroke="#1a1a1a" stroke-width="1.5" />
<path d="M326 204 L333 214 M331 208 L337 211" fill="none" stroke="#1a1a1a" stroke-width="2.5" />
<path d="M622 548L742 616" fill="none" stroke="#1a1a1a" stroke-width="1.2" />
<path d="M671 546.4L646.6 533.8A14.5 25.2 29 0 0 622.1 577.8L646.5 590.4Z" fill="#fff" stroke="#1a1a1a" stroke-width="1.6" />
<ellipse cx="658.8" cy="568.4" rx="14.5" ry="25.2" transform="rotate(29 658.8 568.4)" fill="#fff" stroke="#1a1a1a" stroke-width="1.6" />
<ellipse cx="658.8" cy="568.4" rx="13.2" ry="23.6" transform="rotate(29 658.8 568.4)" fill="#fff" stroke="#1a1a1a" stroke-width="4" />
<ellipse cx="659.2" cy="568.4" rx="9.6" ry="18" transform="rotate(29 659.2 568.4)" fill="#fff" stroke="#1a1a1a" stroke-width="1.3" />
<ellipse cx="660" cy="568.7" rx="7.6" ry="14.5" transform="rotate(29 660 568.7)" fill="#fff" stroke="#1a1a1a" stroke-width="1.8" />
<path d="M667.1 558.9A6 12 29 0 1 655.4 579.9" fill="none" stroke="#1a1a1a" stroke-width="1.2" />
<path d="M652.8 565.4L664.8 571.4" fill="none" stroke="#1a1a1a" stroke-width="1.1" />
<path d="M690.3 561.4L692.4 561.1L694.4 561.2L696.3 561.5L698.1 562.2L699.6 563.2L701 564.5L702.2 566.1L703.2 567.9L703.9 570L704.4 572.2L704.6 574.7L704.6 577.2L704.4 579.9L703.8 582.6L703.1 585.4L702.1 588.1L700.8 590.8L699.4 593.5L697.8 596L696 598.3L694.1 600.5L692.1 602.4L690 604.1L687.9 605.5L685.7 606.7L683.5 607.5L681.4 608.1L679.3 608.3L677.3 608.2L675.4 607.8L673.7 607L672.2 606L670.8 604.7L669.6 603.1L668.7 601.2L668 599.1L667.5 596.8L667.3 594.4L667.4 591.8L667.7 589.1L669.9 589.1L669.6 591.5L669.5 593.8L669.6 596L670 598L670.5 599.9L671.3 601.5L672.3 602.9L673.5 604.1L674.8 605L676.3 605.7L677.9 606L679.7 606.1L681.5 605.8L683.4 605.3L685.3 604.5L687.2 603.4L689.1 602.1L691 600.5L692.8 598.7L694.5 596.7L696.1 594.6L697.5 592.3L698.8 589.9L700 587.5L700.9 585L701.6 582.5L702.1 580L702.4 577.6L702.5 575.3L702.3 573.1L702 571.1L701.4 569.3L700.6 567.7L699.5 566.3L698.4 565.1L697 564.3L695.5 563.7L693.8 563.4L692.1 563.4L690.3 563.6Z" fill="#fff" stroke="#1a1a1a" stroke-width="1.3" />
<circle cx="690.9" cy="562.4" r="1.6" fill="#222"/>
<circle cx="678.5" cy="569.5" r="1.6" fill="#222"/>
<ellipse cx="717.8" cy="602.9" rx="16.8" ry="25.5" transform="rotate(29 717.8 602.9)" fill="#fff" stroke="#1a1a1a" stroke-width="1.1" />
<ellipse cx="717.8" cy="602.9" rx="14.8" ry="23.2" transform="rotate(29 717.8 602.9)" fill="#fff" stroke="#1a1a1a" stroke-width="3.8" />
<ellipse cx="718.1" cy="602.9" rx="12.2" ry="20.2" transform="rotate(29 718.1 602.9)" fill="#fff" stroke="#1a1a1a" stroke-width="1.1" />
<path d="M707.8 597.3L720.8 604.6" fill="none" stroke="#1a1a1a" stroke-width="1.2" />
<path d="M309 516L332 503" fill="none" stroke="#1a1a1a" stroke-width="1.2" />
<path d="M301.8 514.8C302 512.5 302.1 511.8 303.8 510.3C305.6 508.8 306.9 508.2 309.3 508.3C311.8 508.4 312.7 508.9 314.3 510.8C315.9 512.7 316.4 513.8 316.3 516.3C316.2 518.8 315.8 519.7 313.8 521.3C311.8 522.9 310.4 523.5 307.8 523.3C305.2 523.1 304.2 522.3 302.8 520.3C301.4 518.3 301.6 517.1 301.8 514.8Z" fill="#fff" stroke="#111" stroke-width="3.4" />
<ellipse cx="307.4" cy="516.6" rx="2.5" ry="3.2" transform="rotate(-28 307.4 516.6)" fill="#fff" stroke="#111" stroke-width="2.2" />
<path d="M309.3 509.3L311 513.8L315.3 516.3M311 513.8L310.8 518.8L312.8 521.3" fill="none" stroke="#111" stroke-width="1.3" />
<ellipse cx="329.4" cy="505.5" rx="3.8" ry="5.2" transform="rotate(-28 329.4 505.5)" fill="#fff" stroke="#1a1a1a" stroke-width="1.8" />
<ellipse cx="329.4" cy="505.5" rx="1.7" ry="2.4" transform="rotate(-28 329.4 505.5)" fill="#fff" stroke="#1a1a1a" stroke-width="1.3" />
<text transform="translate(64 253.7) scale(0.88 1)" font-size="18.5" text-anchor="middle">18</text>
<text transform="translate(88 232.2) scale(0.88 1)" font-size="18.5" text-anchor="middle">10</text>
<text transform="translate(120.6 217.2) scale(0.88 1)" font-size="18.5" text-anchor="middle">7</text>
<text transform="translate(162 282.2) scale(0.88 1)" font-size="18.5" text-anchor="middle">10</text>
<text transform="translate(77.5 335.2) scale(0.88 1)" font-size="18.5" text-anchor="middle">7</text>
<text transform="translate(75.6 364.7) scale(0.88 1)" font-size="18.5" text-anchor="middle">24</text>
<text transform="translate(187 376.7) scale(0.88 1)" font-size="18.5" text-anchor="middle">18</text>
<text transform="translate(245.6 159.9) scale(0.88 1)" font-size="18.5" text-anchor="middle">24</text>
<text transform="translate(366 123.7) scale(0.88 1)" font-size="18.5" text-anchor="middle">7</text>
<text transform="translate(396 124.2) scale(0.88 1)" font-size="18.5" text-anchor="middle">10</text>
<text transform="translate(484.4 139.9) scale(0.88 1)" font-size="18.5" text-anchor="middle">16</text>
<text transform="translate(472 223.7) scale(0.88 1)" font-size="18.5" text-anchor="middle">13</text>
<text transform="translate(552 116.2) scale(0.88 1)" font-size="18.5" text-anchor="middle">18</text>
<text transform="translate(697 116.2) scale(0.88 1)" font-size="18.5" text-anchor="middle">12</text>
<text transform="translate(697.5 176.2) scale(0.88 1)" font-size="18.5" text-anchor="middle">5</text>
<text transform="translate(629 320.2) scale(0.88 1)" font-size="18.5" text-anchor="middle">17</text>
<text transform="translate(792 401.2) scale(0.88 1)" font-size="18.5" text-anchor="middle">14</text>
<text transform="translate(737.5 435.2) scale(0.88 1)" font-size="18.5" text-anchor="middle">18</text>
<text transform="translate(38 467.2) scale(0.88 1)" font-size="18.5" text-anchor="middle">18</text>
<text transform="translate(67 451.2) scale(0.88 1)" font-size="18.5" text-anchor="middle">10</text>
<text transform="translate(92.5 433.7) scale(0.88 1)" font-size="18.5" text-anchor="middle">7</text>
<text transform="translate(122 414.9) scale(0.88 1)" font-size="18.5" text-anchor="middle">21</text>
<text transform="translate(119.4 502.2) scale(0.88 1)" font-size="18.5" text-anchor="middle">25</text>
<text transform="translate(208.5 255.2) scale(0.88 1)" font-size="18.5" text-anchor="middle">24</text>
<text transform="translate(318 293.7) scale(0.88 1)" font-size="18.5" text-anchor="middle">7</text>
<text transform="translate(361 288.7) scale(0.88 1)" font-size="18.5" text-anchor="middle">10</text>
<text transform="translate(383.7 316.2) scale(0.88 1)" font-size="18.5" text-anchor="middle">3</text>
<text transform="translate(336 347.2) scale(0.88 1)" font-size="18.5" text-anchor="middle">1</text>
<text transform="translate(245.6 336.2) scale(0.88 1)" font-size="18.5" text-anchor="middle">21</text>
<text transform="translate(208 300.2) scale(0.88 1)" font-size="18.5" text-anchor="middle">13</text>
<text transform="translate(231 357.2) scale(0.88 1)" font-size="18.5" text-anchor="middle">7</text>
<text transform="translate(216 373.2) scale(0.88 1)" font-size="18.5" text-anchor="middle">10</text>
<text transform="translate(457 336.2) scale(0.88 1)" font-size="18.5" text-anchor="middle">26</text>
<text transform="translate(492 386.2) scale(0.88 1)" font-size="18.5" text-anchor="middle">18</text>
<text transform="translate(459.4 398.7) scale(0.88 1)" font-size="18.5" text-anchor="middle">15</text>
<text transform="translate(459 493.7) scale(0.88 1)" font-size="18.5" text-anchor="middle">8</text>
<text transform="translate(423 517.2) scale(0.88 1)" font-size="18.5" text-anchor="middle">10</text>
<text transform="translate(525.6 536.2) scale(0.88 1)" font-size="18.5" text-anchor="middle">19</text>
<text transform="translate(502.5 545.2) scale(0.88 1)" font-size="18.5" text-anchor="middle">7</text>
<text transform="translate(602 425) scale(0.88 1)" font-size="18.5" text-anchor="middle">24</text>
<text transform="translate(670.6 463.7) scale(0.88 1)" font-size="18.5" text-anchor="middle">10</text>
<text transform="translate(640 478.7) scale(0.88 1)" font-size="18.5" text-anchor="middle">7</text>
<text transform="translate(707 530.2) scale(0.88 1)" font-size="18.5" text-anchor="middle">10</text>
<text transform="translate(682.5 547.2) scale(0.88 1)" font-size="18.5" text-anchor="middle">7</text>
<text transform="translate(620 598.7) scale(0.88 1)" font-size="18.5" text-anchor="middle">2</text>
<text transform="translate(599.4 615.2) scale(0.88 1)" font-size="18.5" text-anchor="middle">24</text>
<text transform="translate(677.5 652.2) scale(0.88 1)" font-size="18.5" text-anchor="middle">6</text>
<text transform="translate(718 655.2) scale(0.88 1)" font-size="18.5" text-anchor="middle">23</text>
<text transform="translate(765 637.2) scale(0.88 1)" font-size="18.5" text-anchor="middle">9</text>
<text transform="translate(543 631.2) scale(0.88 1)" font-size="18.5" text-anchor="middle">20</text>
<text transform="translate(501 657.2) scale(0.88 1)" font-size="18.5" text-anchor="middle">7</text>
<text transform="translate(474.4 672.2) scale(0.88 1)" font-size="18.5" text-anchor="middle">10</text>
<text transform="translate(173 619.2) scale(0.88 1)" font-size="18.5" text-anchor="middle">11</text>
<text transform="translate(122.5 688.2) scale(0.88 1)" font-size="18.5" text-anchor="middle">11</text>
<text transform="translate(264 703.7) scale(0.88 1)" font-size="18.5" text-anchor="middle">11</text>
<text transform="translate(335.5 702.2) scale(0.88 1)" font-size="18.5" text-anchor="middle">4</text>
<text transform="translate(331 545.2) scale(0.88 1)" font-size="18.5" text-anchor="middle">18</text>
<text transform="translate(360 540.2) scale(0.88 1)" font-size="18.5" text-anchor="middle">26</text>
<text transform="translate(158 199.7) scale(0.88 1)" font-size="18.5" text-anchor="middle">22</text>
<path d="M389 307Q395 307 398.8 301.1L409 285" fill="none" stroke="#1a1a1a" stroke-width="1.3" />
<path d="M74 244.5Q80 244.5 83.2 250.7L92.5 269" fill="none" stroke="#1a1a1a" stroke-width="1.3" />
<path d="M98.7 224Q104.7 224 107.4 230.5L113.7 246" fill="none" stroke="#1a1a1a" stroke-width="1.3" />
<path d="M128.7 207.5Q134.7 207.5 139.4 212.7L156 231" fill="none" stroke="#1a1a1a" stroke-width="1.3" />
<path d="M150 273.7Q144 273.7 144.4 280.7L145 292" fill="none" stroke="#1a1a1a" stroke-width="1.3" />
<path d="M85 327.5Q91 327.5 97 323.9L103.7 320" fill="none" stroke="#1a1a1a" stroke-width="1.3" />
<path d="M87.5 356Q93.5 356 97.7 350.4L103.7 342.5" fill="none" stroke="#1a1a1a" stroke-width="1.3" />
<path d="M176 365Q170 365 167 358.7L162.5 349" fill="none" stroke="#1a1a1a" stroke-width="1.3" />
<path d="M256 151Q262 151 266.9 155.9L286 175" fill="none" stroke="#1a1a1a" stroke-width="1.3" />
<path d="M360 114Q354 114 352.3 120.8L339 172.5" fill="none" stroke="#1a1a1a" stroke-width="1.3" />
<path d="M384 115Q378 115 376.8 121.9L372.5 146" fill="none" stroke="#1a1a1a" stroke-width="1.3" />
<path d="M475 131Q469 131 465.1 125.2L461 119" fill="none" stroke="#1a1a1a" stroke-width="1.3" />
<path d="M461 215Q455 215 448.9 211.5L427.5 199" fill="none" stroke="#1a1a1a" stroke-width="1.3" />
<path d="M562.5 109Q568.5 109 572.6 114.6L581 126" fill="none" stroke="#1a1a1a" stroke-width="1.3" />
<path d="M686 109Q680 109 674.9 104.2L665 95" fill="none" stroke="#1a1a1a" stroke-width="1.3" />
<path d="M690 166Q684 166 680.9 172.3L667.5 200" fill="none" stroke="#1a1a1a" stroke-width="1.3" />
<path d="M619 312.5Q613 312.5 609.4 306.5L602.5 295" fill="none" stroke="#1a1a1a" stroke-width="1.3" />
<path d="M781 392.5Q775 392.5 771.1 386.7L760 370" fill="none" stroke="#1a1a1a" stroke-width="1.3" />
<path d="M726.5 426.5Q720.5 426.5 714.6 422.8L691 408" fill="none" stroke="#1a1a1a" stroke-width="1.3" />
<path d="M27.5 460Q21.5 460 18.9 453.5L11 434" fill="none" stroke="#1a1a1a" stroke-width="1.3" />
<path d="M56 444Q50 444 46 438.3L37.5 426" fill="none" stroke="#1a1a1a" stroke-width="1.3" />
<path d="M86 426Q80 426 75.8 420.4L66 407.5" fill="none" stroke="#1a1a1a" stroke-width="1.3" />
<path d="M111 406Q105 406 102.2 399.6L94 381" fill="none" stroke="#1a1a1a" stroke-width="1.3" />
<path d="M130 495Q136 495 138.9 488.6L145 475" fill="none" stroke="#1a1a1a" stroke-width="1.3" />
<path d="M222 247.5Q228 247.5 229.8 254.2L231.5 261" fill="none" stroke="#1a1a1a" stroke-width="1.3" />
<path d="M312.5 286Q306.5 286 303.7 279.6L300 271" fill="none" stroke="#1a1a1a" stroke-width="1.3" />
<path d="M350 281Q344 281 339.7 275.4L326 257.5" fill="none" stroke="#1a1a1a" stroke-width="1.3" />
<path d="M331 340Q325 340 320.1 344.9L314 351" fill="none" stroke="#1a1a1a" stroke-width="1.3" />
<path d="M235 326Q229 326 224.5 320.6L219 314" fill="none" stroke="#1a1a1a" stroke-width="1.3" />
<path d="M226 347.5Q220 347.5 216.5 341.4L207.5 326" fill="none" stroke="#1a1a1a" stroke-width="1.3" />
<path d="M205 362Q199 362 193.1 358.2L172.5 345" fill="none" stroke="#1a1a1a" stroke-width="1.3" />
<path d="M467.5 327.5Q473.5 327.5 476.4 333.9L485 352.5" fill="none" stroke="#1a1a1a" stroke-width="1.3" />
<path d="M481 379Q475 379 474.5 374.5L474 370" fill="none" stroke="#1a1a1a" stroke-width="1.3" />
<path d="M470 390Q476 390 479.5 396.1L486 407.5" fill="none" stroke="#1a1a1a" stroke-width="1.3" />
<path d="M465 487.5Q471 487.5 473.5 481.2L476 475" fill="none" stroke="#1a1a1a" stroke-width="1.3" />
<path d="M434 509Q440 509 443 515.3L447.5 525" fill="none" stroke="#1a1a1a" stroke-width="1.3" />
<path d="M515 527.5Q509 527.5 505.4 521.5L500 512.5" fill="none" stroke="#1a1a1a" stroke-width="1.3" />
<path d="M496 537.5Q490 537.5 487 531.8L484 526" fill="none" stroke="#1a1a1a" stroke-width="1.3" />
<path d="M592 415Q586 415 585.1 421.9L584 430" fill="none" stroke="#1a1a1a" stroke-width="1.3" />
<path d="M660 456Q654 456 649 451.1L637.5 440" fill="none" stroke="#1a1a1a" stroke-width="1.3" />
<path d="M634 470Q628 470 623.6 464.5L616 455" fill="none" stroke="#1a1a1a" stroke-width="1.3" />
<path d="M696 522.5Q690 522.5 685.1 517.6L680 512.5" fill="none" stroke="#1a1a1a" stroke-width="1.3" />
<path d="M676 539Q670 539 665.2 533.9L656 524" fill="none" stroke="#1a1a1a" stroke-width="1.3" />
<path d="M614 590Q608 590 605.2 583.6L596 562.5" fill="none" stroke="#1a1a1a" stroke-width="1.3" />
<path d="M589 606Q583 606 582.8 601L582.5 596" fill="none" stroke="#1a1a1a" stroke-width="1.3" />
<path d="M671 644Q665 644 662.3 637.5L639 581" fill="none" stroke="#1a1a1a" stroke-width="1.3" />
<path d="M707.5 646Q701.5 646 698.4 639.7L682.5 607.5" fill="none" stroke="#1a1a1a" stroke-width="1.3" />
<path d="M759 630Q753 630 747.8 625.3L731 610" fill="none" stroke="#1a1a1a" stroke-width="1.3" />
<path d="M532.5 621Q526.5 621 521.5 616.1L502.5 597.5" fill="none" stroke="#1a1a1a" stroke-width="1.3" />
<path d="M495 649Q489 649 483.6 644.5L467.5 631" fill="none" stroke="#1a1a1a" stroke-width="1.3" />
<path d="M464 662.5Q458 662.5 452.8 657.9L441 647.5" fill="none" stroke="#1a1a1a" stroke-width="1.3" />
<path d="M184.5 607.5Q190.5 607.5 194.6 613.2L226.5 657" fill="none" stroke="#1a1a1a" stroke-width="1.3" />
<path d="M132.5 680Q138.5 680 142.5 685.7L152.5 700" fill="none" stroke="#1a1a1a" stroke-width="1.3" />
<path d="M275 695Q281 695 283.5 701.2L286 707.5" fill="none" stroke="#1a1a1a" stroke-width="1.3" />
<path d="M327.5 692.5Q321.5 692.5 317.6 686.7L305 667.5" fill="none" stroke="#1a1a1a" stroke-width="1.3" />
<path d="M320 535Q314 535 313.2 528.8L312.5 522.5" fill="none" stroke="#1a1a1a" stroke-width="1.3" />
<path d="M348.5 531Q342.5 531 339.8 524.6L332.5 507.5" fill="none" stroke="#1a1a1a" stroke-width="1.3" />
<path d="M168 191Q174 191 178.5 196.4L195 216" fill="none" stroke="#1a1a1a" stroke-width="1.3" />
</g>
</svg>
</body></html>
